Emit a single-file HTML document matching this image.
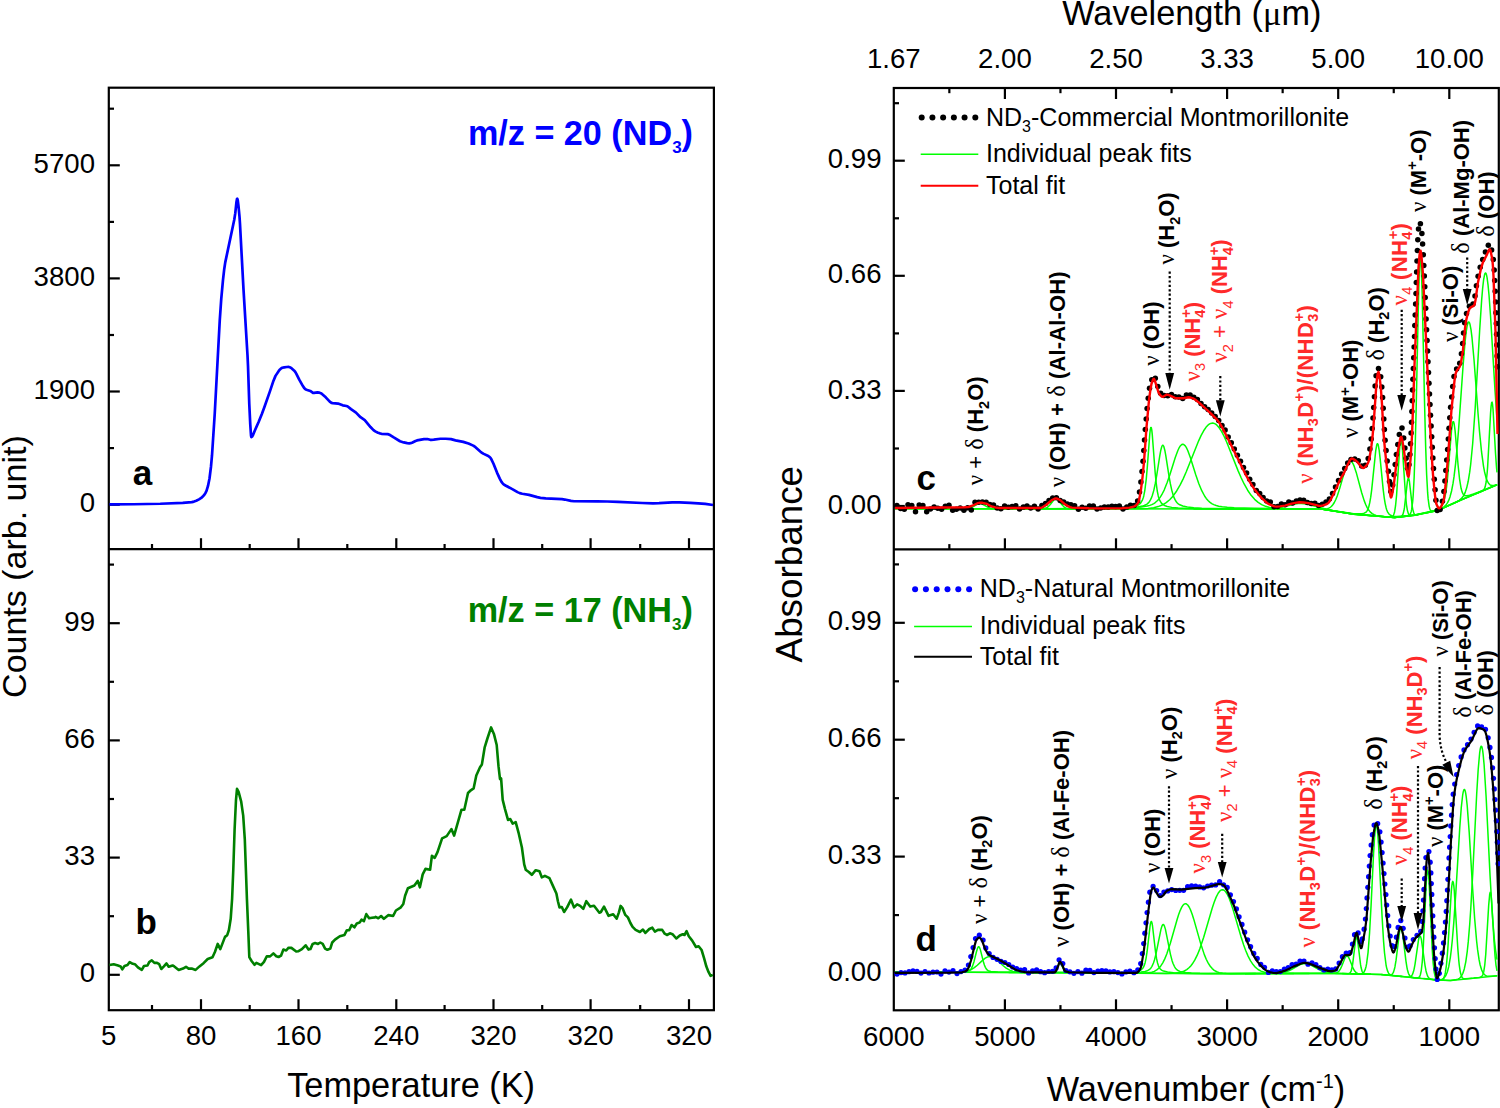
<!DOCTYPE html>
<html><head><meta charset="utf-8"><style>html,body{margin:0;padding:0;background:#fff;overflow:hidden}svg{display:block}</style></head>
<body><svg width="1500" height="1108" viewBox="0 0 1500 1108" font-family="'Liberation Sans', sans-serif">
<rect width="1500" height="1108" fill="#fff"/>
<rect x="108.8" y="87.7" width="605.1" height="922.5" fill="none" stroke="#000" stroke-width="2.2"/>
<line x1="108.80" y1="549.20" x2="713.90" y2="549.20" stroke="#000" stroke-width="2.2" />
<rect x="893.8" y="88.0" width="605.0" height="922.3" fill="none" stroke="#000" stroke-width="2.2"/>
<line x1="893.80" y1="549.30" x2="1498.80" y2="549.30" stroke="#000" stroke-width="2.2" />
<line x1="108.80" y1="165.30" x2="119.80" y2="165.30" stroke="#000" stroke-width="2.2" />
<text x="95.00" y="172.90" font-size="27.6" text-anchor="end" font-weight="normal" fill="#000" >5700</text>
<line x1="108.80" y1="278.40" x2="119.80" y2="278.40" stroke="#000" stroke-width="2.2" />
<text x="95.00" y="286.00" font-size="27.6" text-anchor="end" font-weight="normal" fill="#000" >3800</text>
<line x1="108.80" y1="391.50" x2="119.80" y2="391.50" stroke="#000" stroke-width="2.2" />
<text x="95.00" y="399.10" font-size="27.6" text-anchor="end" font-weight="normal" fill="#000" >1900</text>
<line x1="108.80" y1="504.70" x2="119.80" y2="504.70" stroke="#000" stroke-width="2.2" />
<text x="95.00" y="512.30" font-size="27.6" text-anchor="end" font-weight="normal" fill="#000" >0</text>
<line x1="108.80" y1="623.20" x2="119.80" y2="623.20" stroke="#000" stroke-width="2.2" />
<text x="95.00" y="630.80" font-size="27.6" text-anchor="end" font-weight="normal" fill="#000" >99</text>
<line x1="108.80" y1="740.40" x2="119.80" y2="740.40" stroke="#000" stroke-width="2.2" />
<text x="95.00" y="748.00" font-size="27.6" text-anchor="end" font-weight="normal" fill="#000" >66</text>
<line x1="108.80" y1="857.60" x2="119.80" y2="857.60" stroke="#000" stroke-width="2.2" />
<text x="95.00" y="865.20" font-size="27.6" text-anchor="end" font-weight="normal" fill="#000" >33</text>
<line x1="108.80" y1="974.80" x2="119.80" y2="974.80" stroke="#000" stroke-width="2.2" />
<text x="95.00" y="982.40" font-size="27.6" text-anchor="end" font-weight="normal" fill="#000" >0</text>
<line x1="108.80" y1="108.70" x2="114.00" y2="108.70" stroke="#000" stroke-width="2.2" />
<line x1="108.80" y1="221.90" x2="114.00" y2="221.90" stroke="#000" stroke-width="2.2" />
<line x1="108.80" y1="335.00" x2="114.00" y2="335.00" stroke="#000" stroke-width="2.2" />
<line x1="108.80" y1="448.10" x2="114.00" y2="448.10" stroke="#000" stroke-width="2.2" />
<line x1="108.80" y1="564.60" x2="114.00" y2="564.60" stroke="#000" stroke-width="2.2" />
<line x1="108.80" y1="681.80" x2="114.00" y2="681.80" stroke="#000" stroke-width="2.2" />
<line x1="108.80" y1="799.00" x2="114.00" y2="799.00" stroke="#000" stroke-width="2.2" />
<line x1="108.80" y1="916.20" x2="114.00" y2="916.20" stroke="#000" stroke-width="2.2" />
<line x1="201.00" y1="549.20" x2="201.00" y2="538.20" stroke="#000" stroke-width="2.2" />
<line x1="298.50" y1="549.20" x2="298.50" y2="538.20" stroke="#000" stroke-width="2.2" />
<line x1="396.30" y1="549.20" x2="396.30" y2="538.20" stroke="#000" stroke-width="2.2" />
<line x1="493.50" y1="549.20" x2="493.50" y2="538.20" stroke="#000" stroke-width="2.2" />
<line x1="590.60" y1="549.20" x2="590.60" y2="538.20" stroke="#000" stroke-width="2.2" />
<line x1="689.00" y1="549.20" x2="689.00" y2="538.20" stroke="#000" stroke-width="2.2" />
<line x1="152.00" y1="549.20" x2="152.00" y2="544.00" stroke="#000" stroke-width="2.2" />
<line x1="249.70" y1="549.20" x2="249.70" y2="544.00" stroke="#000" stroke-width="2.2" />
<line x1="347.30" y1="549.20" x2="347.30" y2="544.00" stroke="#000" stroke-width="2.2" />
<line x1="444.60" y1="549.20" x2="444.60" y2="544.00" stroke="#000" stroke-width="2.2" />
<line x1="542.20" y1="549.20" x2="542.20" y2="544.00" stroke="#000" stroke-width="2.2" />
<line x1="640.20" y1="549.20" x2="640.20" y2="544.00" stroke="#000" stroke-width="2.2" />
<line x1="201.00" y1="1010.20" x2="201.00" y2="999.20" stroke="#000" stroke-width="2.2" />
<line x1="298.50" y1="1010.20" x2="298.50" y2="999.20" stroke="#000" stroke-width="2.2" />
<line x1="396.30" y1="1010.20" x2="396.30" y2="999.20" stroke="#000" stroke-width="2.2" />
<line x1="493.50" y1="1010.20" x2="493.50" y2="999.20" stroke="#000" stroke-width="2.2" />
<line x1="590.60" y1="1010.20" x2="590.60" y2="999.20" stroke="#000" stroke-width="2.2" />
<line x1="689.00" y1="1010.20" x2="689.00" y2="999.20" stroke="#000" stroke-width="2.2" />
<line x1="152.00" y1="1010.20" x2="152.00" y2="1005.00" stroke="#000" stroke-width="2.2" />
<line x1="249.70" y1="1010.20" x2="249.70" y2="1005.00" stroke="#000" stroke-width="2.2" />
<line x1="347.30" y1="1010.20" x2="347.30" y2="1005.00" stroke="#000" stroke-width="2.2" />
<line x1="444.60" y1="1010.20" x2="444.60" y2="1005.00" stroke="#000" stroke-width="2.2" />
<line x1="542.20" y1="1010.20" x2="542.20" y2="1005.00" stroke="#000" stroke-width="2.2" />
<line x1="640.20" y1="1010.20" x2="640.20" y2="1005.00" stroke="#000" stroke-width="2.2" />
<text x="108.80" y="1045.30" font-size="27.6" text-anchor="middle" font-weight="normal" fill="#000" >5</text>
<text x="201.00" y="1045.30" font-size="27.6" text-anchor="middle" font-weight="normal" fill="#000" >80</text>
<text x="298.50" y="1045.30" font-size="27.6" text-anchor="middle" font-weight="normal" fill="#000" >160</text>
<text x="396.30" y="1045.30" font-size="27.6" text-anchor="middle" font-weight="normal" fill="#000" >240</text>
<text x="493.50" y="1045.30" font-size="27.6" text-anchor="middle" font-weight="normal" fill="#000" >320</text>
<text x="590.60" y="1045.30" font-size="27.6" text-anchor="middle" font-weight="normal" fill="#000" >320</text>
<text x="689.00" y="1045.30" font-size="27.6" text-anchor="middle" font-weight="normal" fill="#000" >320</text>
<line x1="893.80" y1="160.70" x2="904.80" y2="160.70" stroke="#000" stroke-width="2.2" />
<text x="881.50" y="168.30" font-size="27.6" text-anchor="end" font-weight="normal" fill="#000" >0.99</text>
<line x1="893.80" y1="275.80" x2="904.80" y2="275.80" stroke="#000" stroke-width="2.2" />
<text x="881.50" y="283.40" font-size="27.6" text-anchor="end" font-weight="normal" fill="#000" >0.66</text>
<line x1="893.80" y1="390.90" x2="904.80" y2="390.90" stroke="#000" stroke-width="2.2" />
<text x="881.50" y="398.50" font-size="27.6" text-anchor="end" font-weight="normal" fill="#000" >0.33</text>
<line x1="893.80" y1="506.00" x2="904.80" y2="506.00" stroke="#000" stroke-width="2.2" />
<text x="881.50" y="513.60" font-size="27.6" text-anchor="end" font-weight="normal" fill="#000" >0.00</text>
<line x1="893.80" y1="622.80" x2="904.80" y2="622.80" stroke="#000" stroke-width="2.2" />
<text x="881.50" y="630.40" font-size="27.6" text-anchor="end" font-weight="normal" fill="#000" >0.99</text>
<line x1="893.80" y1="739.70" x2="904.80" y2="739.70" stroke="#000" stroke-width="2.2" />
<text x="881.50" y="747.30" font-size="27.6" text-anchor="end" font-weight="normal" fill="#000" >0.66</text>
<line x1="893.80" y1="856.60" x2="904.80" y2="856.60" stroke="#000" stroke-width="2.2" />
<text x="881.50" y="864.20" font-size="27.6" text-anchor="end" font-weight="normal" fill="#000" >0.33</text>
<line x1="893.80" y1="973.50" x2="904.80" y2="973.50" stroke="#000" stroke-width="2.2" />
<text x="881.50" y="981.10" font-size="27.6" text-anchor="end" font-weight="normal" fill="#000" >0.00</text>
<line x1="893.80" y1="103.20" x2="899.00" y2="103.20" stroke="#000" stroke-width="2.2" />
<line x1="893.80" y1="218.30" x2="899.00" y2="218.30" stroke="#000" stroke-width="2.2" />
<line x1="893.80" y1="333.40" x2="899.00" y2="333.40" stroke="#000" stroke-width="2.2" />
<line x1="893.80" y1="448.50" x2="899.00" y2="448.50" stroke="#000" stroke-width="2.2" />
<line x1="893.80" y1="564.40" x2="899.00" y2="564.40" stroke="#000" stroke-width="2.2" />
<line x1="893.80" y1="681.30" x2="899.00" y2="681.30" stroke="#000" stroke-width="2.2" />
<line x1="893.80" y1="798.20" x2="899.00" y2="798.20" stroke="#000" stroke-width="2.2" />
<line x1="893.80" y1="915.10" x2="899.00" y2="915.10" stroke="#000" stroke-width="2.2" />
<line x1="1004.90" y1="549.30" x2="1004.90" y2="538.30" stroke="#000" stroke-width="2.2" />
<line x1="1116.00" y1="549.30" x2="1116.00" y2="538.30" stroke="#000" stroke-width="2.2" />
<line x1="1227.10" y1="549.30" x2="1227.10" y2="538.30" stroke="#000" stroke-width="2.2" />
<line x1="1338.20" y1="549.30" x2="1338.20" y2="538.30" stroke="#000" stroke-width="2.2" />
<line x1="1449.30" y1="549.30" x2="1449.30" y2="538.30" stroke="#000" stroke-width="2.2" />
<line x1="949.35" y1="549.30" x2="949.35" y2="544.10" stroke="#000" stroke-width="2.2" />
<line x1="1060.45" y1="549.30" x2="1060.45" y2="544.10" stroke="#000" stroke-width="2.2" />
<line x1="1171.55" y1="549.30" x2="1171.55" y2="544.10" stroke="#000" stroke-width="2.2" />
<line x1="1282.65" y1="549.30" x2="1282.65" y2="544.10" stroke="#000" stroke-width="2.2" />
<line x1="1393.75" y1="549.30" x2="1393.75" y2="544.10" stroke="#000" stroke-width="2.2" />
<line x1="1004.90" y1="1010.30" x2="1004.90" y2="999.30" stroke="#000" stroke-width="2.2" />
<line x1="1116.00" y1="1010.30" x2="1116.00" y2="999.30" stroke="#000" stroke-width="2.2" />
<line x1="1227.10" y1="1010.30" x2="1227.10" y2="999.30" stroke="#000" stroke-width="2.2" />
<line x1="1338.20" y1="1010.30" x2="1338.20" y2="999.30" stroke="#000" stroke-width="2.2" />
<line x1="1449.30" y1="1010.30" x2="1449.30" y2="999.30" stroke="#000" stroke-width="2.2" />
<line x1="949.35" y1="1010.30" x2="949.35" y2="1005.10" stroke="#000" stroke-width="2.2" />
<line x1="1060.45" y1="1010.30" x2="1060.45" y2="1005.10" stroke="#000" stroke-width="2.2" />
<line x1="1171.55" y1="1010.30" x2="1171.55" y2="1005.10" stroke="#000" stroke-width="2.2" />
<line x1="1282.65" y1="1010.30" x2="1282.65" y2="1005.10" stroke="#000" stroke-width="2.2" />
<line x1="1393.75" y1="1010.30" x2="1393.75" y2="1005.10" stroke="#000" stroke-width="2.2" />
<line x1="1004.90" y1="88.00" x2="1004.90" y2="99.00" stroke="#000" stroke-width="2.2" />
<line x1="1116.00" y1="88.00" x2="1116.00" y2="99.00" stroke="#000" stroke-width="2.2" />
<line x1="1227.10" y1="88.00" x2="1227.10" y2="99.00" stroke="#000" stroke-width="2.2" />
<line x1="1338.20" y1="88.00" x2="1338.20" y2="99.00" stroke="#000" stroke-width="2.2" />
<line x1="1449.30" y1="88.00" x2="1449.30" y2="99.00" stroke="#000" stroke-width="2.2" />
<line x1="949.35" y1="88.00" x2="949.35" y2="93.20" stroke="#000" stroke-width="2.2" />
<line x1="1060.45" y1="88.00" x2="1060.45" y2="93.20" stroke="#000" stroke-width="2.2" />
<line x1="1171.55" y1="88.00" x2="1171.55" y2="93.20" stroke="#000" stroke-width="2.2" />
<line x1="1282.65" y1="88.00" x2="1282.65" y2="93.20" stroke="#000" stroke-width="2.2" />
<line x1="1393.75" y1="88.00" x2="1393.75" y2="93.20" stroke="#000" stroke-width="2.2" />
<text x="893.80" y="1045.80" font-size="27.6" text-anchor="middle" font-weight="normal" fill="#000" >6000</text>
<text x="1004.90" y="1045.80" font-size="27.6" text-anchor="middle" font-weight="normal" fill="#000" >5000</text>
<text x="1116.00" y="1045.80" font-size="27.6" text-anchor="middle" font-weight="normal" fill="#000" >4000</text>
<text x="1227.10" y="1045.80" font-size="27.6" text-anchor="middle" font-weight="normal" fill="#000" >3000</text>
<text x="1338.20" y="1045.80" font-size="27.6" text-anchor="middle" font-weight="normal" fill="#000" >2000</text>
<text x="1449.30" y="1045.80" font-size="27.6" text-anchor="middle" font-weight="normal" fill="#000" >1000</text>
<text x="893.80" y="67.50" font-size="27.6" text-anchor="middle" font-weight="normal" fill="#000" >1.67</text>
<text x="1004.90" y="67.50" font-size="27.6" text-anchor="middle" font-weight="normal" fill="#000" >2.00</text>
<text x="1116.00" y="67.50" font-size="27.6" text-anchor="middle" font-weight="normal" fill="#000" >2.50</text>
<text x="1227.10" y="67.50" font-size="27.6" text-anchor="middle" font-weight="normal" fill="#000" >3.33</text>
<text x="1338.20" y="67.50" font-size="27.6" text-anchor="middle" font-weight="normal" fill="#000" >5.00</text>
<text x="1449.30" y="67.50" font-size="27.6" text-anchor="middle" font-weight="normal" fill="#000" >10.00</text>
<text x="411.10" y="1096.70" font-size="34.3" text-anchor="middle" font-weight="normal" fill="#000" >Temperature (K)</text>
<text x="1196" y="1101.3" font-size="34.3" text-anchor="middle">Wavenumber (cm<tspan font-size="20" dy="-13">-1</tspan><tspan dy="13">)</tspan></text>
<text x="1191.8" y="24.5" font-size="34.3" text-anchor="middle">Wavelength (<tspan font-family="'Liberation Serif', serif">&#956;</tspan>m)</text>
<text transform="translate(25.7,566.6) rotate(-90)" font-size="34" text-anchor="middle">Counts (arb. unit)</text>
<text transform="translate(802.2,564.2) rotate(-90)" font-size="36.8" text-anchor="middle">Absorbance</text>
<text x="132.70" y="484.50" font-size="35" text-anchor="start" font-weight="bold" fill="#000" >a</text>
<text x="135.50" y="933.50" font-size="35" text-anchor="start" font-weight="bold" fill="#000" >b</text>
<text x="916.50" y="490.00" font-size="35" text-anchor="start" font-weight="bold" fill="#000" >c</text>
<text x="915.50" y="951.00" font-size="35" text-anchor="start" font-weight="bold" fill="#000" >d</text>
<text x="693" y="145.3" font-size="34.2" font-weight="bold" fill="#0000ff" text-anchor="end">m/z = 20 (ND<tspan font-size="17" dy="8">3</tspan><tspan dy="-8">)</tspan></text>
<text x="692.8" y="621.5" font-size="34.2" font-weight="bold" fill="#008000" text-anchor="end">m/z = 17 (NH<tspan font-size="17" dy="8">3</tspan><tspan dy="-8">)</tspan></text>
<circle cx="921.70" cy="117.5" r="3" fill="#000"/>
<circle cx="932.42" cy="117.5" r="3" fill="#000"/>
<circle cx="943.14" cy="117.5" r="3" fill="#000"/>
<circle cx="953.86" cy="117.5" r="3" fill="#000"/>
<circle cx="964.58" cy="117.5" r="3" fill="#000"/>
<circle cx="975.30" cy="117.5" r="3" fill="#000"/>
<text x="986" y="126" font-size="25">ND<tspan font-size="16" dy="6">3</tspan><tspan dy="-6">-Commercial Montmorillonite</tspan></text>
<line x1="920.70" y1="154.30" x2="978.30" y2="154.30" stroke="#00ff00" stroke-width="1.6" />
<text x="986.00" y="161.70" font-size="25" text-anchor="start" font-weight="normal" fill="#000" >Individual peak fits</text>
<line x1="920.70" y1="185.70" x2="978.30" y2="185.70" stroke="#ff0000" stroke-width="2.0" />
<text x="986.00" y="194.00" font-size="25" text-anchor="start" font-weight="normal" fill="#000" >Total fit</text>
<circle cx="915.10" cy="589.2" r="3" fill="#0000ff"/>
<circle cx="925.90" cy="589.2" r="3" fill="#0000ff"/>
<circle cx="936.70" cy="589.2" r="3" fill="#0000ff"/>
<circle cx="947.50" cy="589.2" r="3" fill="#0000ff"/>
<circle cx="958.30" cy="589.2" r="3" fill="#0000ff"/>
<circle cx="969.10" cy="589.2" r="3" fill="#0000ff"/>
<text x="979.8" y="597.4" font-size="25">ND<tspan font-size="16" dy="6">3</tspan><tspan dy="-6">-Natural Montmorillonite</tspan></text>
<line x1="914.10" y1="626.50" x2="972.00" y2="626.50" stroke="#00ff00" stroke-width="1.6" />
<text x="979.80" y="634.10" font-size="25" text-anchor="start" font-weight="normal" fill="#000" >Individual peak fits</text>
<line x1="914.10" y1="656.70" x2="972.00" y2="656.70" stroke="#000" stroke-width="2.0" />
<text x="979.80" y="664.70" font-size="25" text-anchor="start" font-weight="normal" fill="#000" >Total fit</text>
<path d="M895.00,508.80 L1279.00,509.00 L1319.00,508.81 L1321.00,508.96 L1353.00,514.07 L1393.00,517.39 L1395.00,517.43 L1415.00,515.24 L1437.00,510.65 L1439.00,509.91 L1463.00,499.12 L1497.50,484.63" fill="none" stroke="#00ff00" stroke-width="1.5"/>
<path d="M950.00,508.83 L963.88,508.81 L968.35,508.48 L970.33,508.02 L971.82,507.44 L977.27,504.24 L978.76,503.66 L979.75,503.51 L980.74,503.56 L982.23,504.01 L988.18,507.45 L989.67,508.03 L991.65,508.50 L996.12,508.82 L1010.00,508.86" fill="none" stroke="#00ff00" stroke-width="1.5" stroke-linejoin="round"/>
<path d="M1029.00,508.87 L1041.88,508.80 L1043.86,508.62 L1045.84,508.10 L1047.33,507.33 L1048.82,506.12 L1050.30,504.45 L1052.78,501.23 L1054.27,499.71 L1055.26,499.13 L1056.25,499.02 L1057.24,499.37 L1058.23,500.14 L1062.19,505.05 L1063.68,506.58 L1064.67,507.34 L1066.16,508.11 L1068.14,508.63 L1070.12,508.82 L1083.00,508.90" fill="none" stroke="#00ff00" stroke-width="1.5" stroke-linejoin="round"/>
<path d="M1003.80,508.82 L1083.27,508.75 L1114.76,508.39 L1123.76,508.00 L1130.26,507.35 L1134.76,506.42 L1136.75,505.71 L1138.25,504.97 L1139.75,503.90 L1140.75,502.89 L1142.25,500.46 L1143.25,497.79 L1143.75,495.96 L1144.75,490.97 L1146.25,479.08 L1147.25,467.78 L1149.75,434.37 L1150.25,429.86 L1150.75,427.41 L1151.25,427.41 L1151.75,429.86 L1152.25,434.37 L1155.25,473.76 L1156.25,483.71 L1157.25,490.98 L1158.25,495.97 L1158.75,497.80 L1159.75,500.47 L1161.25,502.90 L1162.25,503.92 L1163.75,504.98 L1165.25,505.73 L1167.24,506.44 L1171.74,507.38 L1178.24,508.03 L1187.24,508.43 L1201.73,508.69 L1224.23,508.84 L1298.20,508.88" fill="none" stroke="#00ff00" stroke-width="1.5" stroke-linejoin="round"/>
<path d="M914.40,508.79 L1050.85,508.78 L1103.82,508.54 L1118.82,508.26 L1129.31,507.81 L1136.81,507.13 L1142.31,506.11 L1144.31,505.47 L1145.81,504.79 L1147.31,503.82 L1148.31,502.92 L1149.31,501.74 L1150.31,500.19 L1151.30,498.16 L1152.30,495.56 L1153.80,490.36 L1155.30,483.45 L1156.80,474.87 L1159.80,455.55 L1160.80,450.18 L1161.80,446.51 L1162.30,445.53 L1162.80,445.20 L1163.30,445.53 L1163.80,446.51 L1164.80,450.18 L1165.80,455.56 L1168.80,474.88 L1170.30,483.45 L1171.80,490.37 L1173.30,495.57 L1174.30,498.17 L1175.29,500.20 L1176.29,501.75 L1177.29,502.94 L1178.29,503.83 L1179.79,504.81 L1182.79,505.99 L1187.29,506.94 L1193.79,507.67 L1201.78,508.13 L1213.28,508.47 L1234.77,508.73 L1269.26,508.88 L1319.74,508.75 L1353.72,514.15 L1394.21,517.46 L1411.20,515.66" fill="none" stroke="#00ff00" stroke-width="1.5" stroke-linejoin="round"/>
<path d="M895.00,508.76 L1034.88,508.71 L1097.83,508.42 L1117.32,508.12 L1131.80,507.64 L1141.30,506.99 L1147.29,506.08 L1149.79,505.40 L1151.79,504.63 L1153.79,503.58 L1155.28,502.56 L1157.28,500.80 L1158.78,499.14 L1160.28,497.12 L1161.78,494.72 L1164.28,489.79 L1167.27,482.33 L1169.77,475.00 L1175.27,457.54 L1177.77,450.70 L1179.26,447.53 L1180.26,445.95 L1181.76,444.50 L1182.76,444.20 L1183.76,444.46 L1185.26,445.85 L1186.26,447.39 L1187.76,450.52 L1190.25,457.31 L1195.75,474.77 L1198.75,483.49 L1201.75,490.72 L1204.74,496.26 L1206.24,498.43 L1208.24,500.75 L1209.74,502.13 L1211.74,503.56 L1213.74,504.63 L1216.23,505.57 L1218.73,506.21 L1222.23,506.79 L1227.22,507.30 L1234.22,507.71 L1254.20,508.31 L1280.18,508.63 L1320.15,508.64 L1353.62,514.05 L1394.59,517.40 L1414.57,515.25 L1437.55,510.48 L1462.03,499.49 L1497.00,484.80" fill="none" stroke="#00ff00" stroke-width="1.5" stroke-linejoin="round"/>
<path d="M1091.20,508.90 L1134.68,508.87 L1142.68,508.71 L1148.18,508.38 L1153.67,507.68 L1158.17,506.60 L1162.17,505.04 L1166.17,502.68 L1169.67,499.78 L1173.17,495.92 L1176.66,490.99 L1180.16,484.92 L1183.16,478.83 L1186.16,472.02 L1198.66,440.84 L1201.15,435.42 L1203.65,430.78 L1206.15,427.11 L1208.15,424.98 L1209.65,423.89 L1210.65,423.42 L1211.65,423.16 L1212.65,423.11 L1213.65,423.26 L1214.65,423.63 L1215.65,424.20 L1217.15,425.44 L1219.15,427.76 L1221.65,431.64 L1224.15,436.46 L1226.64,442.01 L1238.14,470.85 L1241.14,477.77 L1244.14,483.99 L1247.64,490.23 L1251.13,495.33 L1254.63,499.33 L1258.13,502.37 L1261.63,504.58 L1265.63,506.33 L1269.63,507.44 L1274.62,508.25 L1280.12,508.69 L1287.12,508.87 L1320.11,508.82 L1333.60,510.97" fill="none" stroke="#00ff00" stroke-width="1.5" stroke-linejoin="round"/>
<path d="M1228.00,508.97 L1261.38,508.96 L1272.35,508.62 L1276.83,508.16 L1280.82,507.49 L1291.78,504.67 L1295.27,503.93 L1298.26,503.57 L1301.25,503.52 L1304.24,503.80 L1307.22,504.36 L1320.18,507.52 L1327.16,509.53 L1337.12,511.49 L1353.56,514.16 L1372.00,515.68" fill="none" stroke="#00ff00" stroke-width="1.5" stroke-linejoin="round"/>
<path d="M1299.50,508.90 L1319.90,508.72 L1322.89,508.99 L1325.37,508.99 L1327.36,508.68 L1328.86,508.16 L1330.35,507.28 L1331.34,506.46 L1332.84,504.77 L1334.33,502.47 L1335.82,499.47 L1337.31,495.75 L1339.80,488.11 L1344.78,470.76 L1346.77,465.24 L1347.76,463.22 L1348.76,461.82 L1349.75,461.08 L1350.25,460.98 L1351.25,461.32 L1352.24,462.37 L1353.24,464.10 L1354.23,466.40 L1356.22,472.40 L1361.70,492.72 L1364.18,500.63 L1365.68,504.46 L1367.17,507.59 L1368.66,510.03 L1370.15,511.89 L1372.14,513.63 L1374.13,514.75 L1376.12,515.45 L1379.11,516.07 L1384.09,516.64 L1394.53,517.49 L1401.50,516.73" fill="none" stroke="#00ff00" stroke-width="1.5" stroke-linejoin="round"/>
<path d="M1193.50,508.95 L1279.86,508.97 L1319.79,508.71 L1342.25,512.10 L1353.74,513.64 L1360.72,513.69 L1362.72,513.52 L1364.22,513.19 L1365.72,512.41 L1366.71,511.40 L1367.21,510.65 L1368.21,508.49 L1368.71,506.98 L1369.71,502.90 L1370.71,497.14 L1371.71,489.56 L1375.70,450.89 L1376.70,445.10 L1377.20,443.80 L1377.70,443.71 L1378.20,444.84 L1379.19,450.38 L1380.19,459.15 L1383.19,489.57 L1384.19,497.51 L1385.18,503.62 L1386.18,508.03 L1386.68,509.69 L1387.68,512.12 L1389.18,514.23 L1390.18,515.01 L1391.67,515.73 L1394.17,516.40 L1396.67,516.43 L1403.65,516.04 L1414.64,515.08 L1437.60,510.43 L1462.06,499.47 L1497.00,484.82" fill="none" stroke="#00ff00" stroke-width="1.5" stroke-linejoin="round"/>
<path d="M1384.20,516.67 L1390.13,517.11 L1391.12,517.08 L1392.11,516.82 L1393.09,515.97 L1393.59,515.12 L1394.58,511.95 L1395.56,505.70 L1396.55,495.51 L1399.52,450.20 L1400.01,444.74 L1400.51,441.24 L1401.00,440.00 L1401.49,441.13 L1401.99,444.53 L1402.48,449.88 L1405.45,494.55 L1406.44,504.53 L1407.42,510.56 L1408.41,513.67 L1408.91,514.50 L1409.89,515.33 L1410.88,515.56 L1412.36,515.53 L1414.84,515.27 L1417.80,514.65" fill="none" stroke="#00ff00" stroke-width="1.5" stroke-linejoin="round"/>
<path d="M1394.60,517.48 L1399.53,516.92 L1401.01,516.57 L1401.99,515.89 L1402.98,514.21 L1403.96,510.55 L1404.46,507.67 L1407.41,481.44 L1407.91,478.92 L1408.40,478.00 L1408.89,478.81 L1409.39,481.23 L1412.34,506.82 L1412.84,509.59 L1413.82,513.03 L1414.31,513.95 L1414.81,514.49 L1415.79,514.86 L1417.27,514.74 L1422.20,513.73" fill="none" stroke="#00ff00" stroke-width="1.5" stroke-linejoin="round"/>
<path d="M1401.20,516.76 L1406.19,516.21 L1408.18,515.83 L1409.18,515.35 L1410.18,514.23 L1411.17,511.67 L1411.67,509.42 L1412.67,501.67 L1413.17,495.53 L1414.17,476.95 L1415.16,448.06 L1416.16,408.49 L1418.16,314.30 L1419.15,276.98 L1419.65,265.06 L1420.15,258.83 L1420.65,258.72 L1421.15,264.75 L1422.15,293.04 L1424.64,406.72 L1425.64,445.88 L1426.63,474.41 L1427.63,492.67 L1428.13,498.65 L1429.13,506.08 L1429.63,508.17 L1430.12,509.55 L1430.62,510.42 L1431.62,511.22 L1433.12,511.36 L1437.61,510.52 L1439.60,509.64" fill="none" stroke="#00ff00" stroke-width="1.5" stroke-linejoin="round"/>
<path d="M1278.40,508.99 L1319.82,508.78 L1353.76,514.16 L1394.19,517.39 L1414.65,515.09 L1429.12,511.74 L1434.12,510.39 L1437.61,509.26 L1439.11,508.30 L1440.60,507.08 L1441.60,505.99 L1442.60,504.47 L1444.10,500.70 L1445.59,493.87 L1446.59,486.87 L1447.59,477.60 L1451.58,429.80 L1452.58,422.95 L1453.08,421.60 L1453.58,421.77 L1454.08,423.44 L1455.08,430.64 L1458.07,464.96 L1459.57,479.11 L1461.07,488.26 L1462.06,491.87 L1463.06,494.03 L1464.06,495.19 L1464.56,495.51 L1465.56,495.82 L1467.05,495.78 L1469.55,495.22 L1473.54,493.94 L1479.03,491.91 L1497.00,484.67" fill="none" stroke="#00ff00" stroke-width="1.5" stroke-linejoin="round"/>
<path d="M1423.60,513.44 L1437.58,510.49 L1441.58,508.49 L1444.07,506.80 L1445.57,505.39 L1446.57,504.16 L1447.57,502.63 L1448.57,500.67 L1450.06,496.68 L1451.56,491.01 L1453.06,483.15 L1454.06,476.45 L1455.56,463.93 L1456.56,453.87 L1458.55,429.86 L1463.05,366.24 L1465.04,342.08 L1466.04,332.95 L1467.04,326.39 L1468.04,322.72 L1468.54,322.03 L1469.04,322.11 L1469.54,322.97 L1470.04,324.57 L1471.04,329.95 L1472.03,337.95 L1474.03,360.03 L1478.03,413.47 L1479.52,431.67 L1481.52,451.72 L1483.52,466.33 L1484.52,471.70 L1486.01,477.66 L1487.01,480.45 L1488.51,483.25 L1490.01,484.80 L1491.01,485.34 L1492.01,485.60 L1494.00,485.53 L1497.00,484.71" fill="none" stroke="#00ff00" stroke-width="1.5" stroke-linejoin="round"/>
<path d="M1440.40,509.28 L1456.29,502.00 L1459.27,500.28 L1461.25,498.67 L1463.24,496.27 L1464.23,494.57 L1465.22,492.37 L1466.71,487.84 L1468.20,481.29 L1469.69,472.13 L1470.69,464.26 L1472.67,443.72 L1475.15,408.78 L1479.62,331.06 L1481.61,300.58 L1482.60,288.75 L1483.59,279.95 L1484.59,274.61 L1485.08,273.32 L1485.58,272.99 L1486.08,273.60 L1486.57,275.14 L1487.07,277.61 L1488.06,285.12 L1489.06,295.74 L1490.55,316.29 L1495.01,390.38 L1497.00,419.31" fill="none" stroke="#00ff00" stroke-width="1.5" stroke-linejoin="round"/>
<path d="M1476.30,493.54 L1481.72,491.22 L1482.71,490.68 L1483.69,489.85 L1484.68,488.22 L1485.17,486.82 L1486.16,481.98 L1487.14,473.04 L1487.64,466.63 L1490.59,412.64 L1491.09,406.41 L1491.58,402.78 L1492.07,402.11 L1492.56,404.45 L1493.06,409.53 L1495.52,453.25 L1496.51,467.37 L1497.00,472.43" fill="none" stroke="#00ff00" stroke-width="1.5" stroke-linejoin="round"/>
<path d="M895.00,972.00 L1099.00,972.80 L1201.00,973.80 L1331.00,973.32 L1381.00,974.50 L1437.00,979.90 L1449.00,980.46 L1451.00,980.40 L1497.50,975.65" fill="none" stroke="#00ff00" stroke-width="1.5"/>
<path d="M895.00,971.99 L953.43,972.03 L963.42,971.75 L965.91,971.53 L967.91,971.15 L969.41,970.50 L970.41,969.69 L971.41,968.39 L972.41,966.44 L973.90,962.03 L976.40,952.00 L977.40,948.59 L977.90,947.44 L978.40,946.81 L978.90,946.75 L979.40,947.27 L980.40,949.81 L983.39,961.69 L984.39,964.92 L985.39,967.35 L986.39,969.04 L987.39,970.13 L988.88,971.03 L990.88,971.54 L997.87,972.06 L1011.36,972.34 L1099.75,972.79 L1139.70,973.19" fill="none" stroke="#00ff00" stroke-width="1.5" stroke-linejoin="round"/>
<path d="M930.00,972.14 L958.38,972.14 L963.36,971.81 L967.34,971.07 L970.83,969.77 L974.32,967.67 L977.30,965.23 L982.78,960.11 L985.27,958.16 L987.76,956.88 L989.75,956.50 L991.74,956.75 L994.23,957.88 L996.72,959.74 L1003.20,965.78 L1006.18,968.15 L1009.67,970.15 L1013.15,971.37 L1017.14,972.08 L1022.12,972.41 L1050.00,972.61" fill="none" stroke="#00ff00" stroke-width="1.5" stroke-linejoin="round"/>
<path d="M1045.00,972.59 L1051.89,972.57 L1053.36,972.35 L1054.34,971.92 L1055.33,971.03 L1056.31,969.55 L1058.77,964.54 L1059.26,963.89 L1059.75,963.54 L1060.25,963.55 L1060.74,963.89 L1061.23,964.55 L1064.18,970.40 L1064.67,971.07 L1065.66,971.96 L1066.64,972.40 L1068.11,972.63 L1075.00,972.70" fill="none" stroke="#00ff00" stroke-width="1.5" stroke-linejoin="round"/>
<path d="M1008.70,972.43 L1119.08,972.63 L1126.58,972.46 L1132.07,972.13 L1136.07,971.61 L1139.06,970.85 L1141.06,969.89 L1142.56,968.55 L1143.56,967.01 L1144.06,965.93 L1145.06,962.90 L1146.06,958.36 L1147.05,951.99 L1150.05,926.20 L1150.55,923.22 L1151.05,921.61 L1151.55,921.61 L1152.05,923.23 L1152.55,926.22 L1155.55,952.08 L1156.54,958.46 L1157.54,963.03 L1158.54,966.08 L1159.04,967.17 L1160.04,968.72 L1161.54,970.10 L1163.54,971.09 L1167.53,972.10 L1173.53,972.79 L1182.52,973.24 L1197.00,973.59 L1293.90,973.42" fill="none" stroke="#00ff00" stroke-width="1.5" stroke-linejoin="round"/>
<path d="M924.00,972.11 L1117.46,972.67 L1135.46,972.36 L1140.95,972.00 L1144.95,971.45 L1146.45,971.07 L1147.95,970.47 L1149.95,969.05 L1150.95,967.90 L1151.95,966.34 L1153.45,963.00 L1154.45,959.99 L1155.95,954.19 L1160.95,929.36 L1161.95,926.08 L1162.45,925.07 L1162.95,924.56 L1163.45,924.57 L1163.95,925.09 L1164.45,926.10 L1165.45,929.40 L1170.45,954.33 L1171.95,960.16 L1172.95,963.20 L1174.45,966.56 L1175.45,968.14 L1176.45,969.31 L1178.45,970.77 L1179.95,971.40 L1181.45,971.81 L1185.45,972.45 L1191.44,972.95 L1199.94,973.34 L1207.94,973.45 L1243.43,973.53 L1330.42,973.29 L1380.90,974.48 L1402.40,976.55" fill="none" stroke="#00ff00" stroke-width="1.5" stroke-linejoin="round"/>
<path d="M1115.30,972.95 L1140.28,973.16 L1144.78,973.08 L1148.28,972.84 L1151.77,972.22 L1154.27,971.36 L1156.77,969.94 L1158.77,968.24 L1160.77,965.92 L1162.77,962.84 L1164.76,958.90 L1166.76,954.06 L1170.26,943.55 L1177.26,919.00 L1178.75,914.34 L1180.25,910.34 L1181.75,907.16 L1182.75,905.58 L1184.25,904.09 L1185.25,903.71 L1186.25,903.85 L1187.75,905.00 L1189.25,907.24 L1190.75,910.44 L1192.25,914.48 L1193.74,919.16 L1200.74,943.84 L1204.24,954.38 L1206.24,959.23 L1208.23,963.18 L1210.23,966.27 L1212.23,968.61 L1214.23,970.31 L1216.73,971.75 L1219.23,972.63 L1222.72,973.27 L1226.22,973.54 L1230.72,973.64 L1255.70,973.59" fill="none" stroke="#00ff00" stroke-width="1.5" stroke-linejoin="round"/>
<path d="M1135.40,973.15 L1166.31,973.42 L1172.29,973.31 L1176.28,973.03 L1180.27,972.37 L1183.76,971.23 L1186.75,969.58 L1189.25,967.54 L1190.74,965.96 L1192.24,964.07 L1194.73,960.15 L1197.22,955.17 L1199.72,949.09 L1203.70,937.20 L1212.18,908.22 L1214.17,902.22 L1216.17,897.14 L1218.16,893.23 L1219.66,891.20 L1221.15,890.01 L1222.65,889.71 L1224.14,890.30 L1225.64,891.76 L1227.14,894.05 L1229.13,898.25 L1230.63,902.16 L1232.62,908.14 L1241.10,937.05 L1243.59,944.75 L1245.58,950.22 L1248.08,956.10 L1250.57,960.88 L1253.06,964.61 L1255.55,967.43 L1258.05,969.48 L1261.04,971.15 L1264.53,972.32 L1268.52,973.00 L1272.51,973.31 L1278.49,973.45 L1309.40,973.38" fill="none" stroke="#00ff00" stroke-width="1.5" stroke-linejoin="round"/>
<path d="M1245.00,973.63 L1272.88,973.46 L1277.86,973.25 L1281.85,972.81 L1285.33,972.04 L1288.82,970.79 L1291.80,969.30 L1298.28,965.53 L1300.77,964.36 L1303.26,963.66 L1305.25,963.50 L1307.24,963.74 L1309.73,964.53 L1312.22,965.74 L1317.70,968.93 L1320.68,970.44 L1323.67,971.59 L1327.16,972.46 L1331.64,973.05 L1336.62,973.39 L1365.00,974.12" fill="none" stroke="#00ff00" stroke-width="1.5" stroke-linejoin="round"/>
<path d="M1323.00,973.33 L1334.38,973.28 L1336.36,972.93 L1337.85,972.19 L1339.33,970.70 L1340.32,969.15 L1341.80,965.96 L1344.77,958.49 L1345.76,956.80 L1346.26,956.28 L1346.75,956.03 L1347.25,956.04 L1347.74,956.32 L1348.73,957.62 L1349.72,959.72 L1353.19,968.49 L1354.67,971.07 L1356.15,972.63 L1357.64,973.44 L1359.62,973.87 L1371.00,974.26" fill="none" stroke="#00ff00" stroke-width="1.5" stroke-linejoin="round"/>
<path d="M1342.20,973.59 L1347.66,973.68 L1349.15,973.45 L1350.14,972.78 L1351.14,971.03 L1352.13,967.30 L1352.63,964.45 L1355.61,940.01 L1356.10,937.77 L1356.60,937.00 L1357.10,937.79 L1357.59,940.05 L1360.57,964.63 L1361.07,967.51 L1362.06,971.28 L1363.06,973.09 L1364.05,973.80 L1365.54,974.10 L1371.00,974.26" fill="none" stroke="#00ff00" stroke-width="1.5" stroke-linejoin="round"/>
<path d="M1351.10,973.80 L1359.58,973.94 L1361.08,973.82 L1362.58,973.35 L1363.58,972.57 L1364.07,971.94 L1365.07,969.93 L1366.07,966.46 L1366.57,963.96 L1368.07,952.33 L1369.56,932.96 L1371.06,905.66 L1373.56,853.66 L1374.55,837.33 L1375.55,827.34 L1376.05,825.26 L1376.55,825.27 L1377.05,827.37 L1377.55,831.48 L1378.55,844.95 L1382.04,915.86 L1383.54,940.87 L1384.53,952.97 L1386.03,964.78 L1386.53,967.34 L1387.53,970.94 L1388.53,973.07 L1389.02,973.76 L1390.02,974.65 L1391.52,975.30 L1393.02,975.61 L1401.50,976.48" fill="none" stroke="#00ff00" stroke-width="1.5" stroke-linejoin="round"/>
<path d="M1381.20,974.52 L1388.13,975.16 L1390.61,975.09 L1391.60,974.68 L1392.09,974.30 L1393.08,972.93 L1393.58,971.84 L1394.57,968.53 L1395.06,966.21 L1396.05,960.13 L1399.52,932.25 L1400.01,929.75 L1400.51,928.20 L1401.00,927.70 L1401.49,928.29 L1401.99,929.94 L1402.48,932.54 L1405.95,961.09 L1406.94,967.36 L1407.43,969.77 L1408.42,973.27 L1408.92,974.46 L1409.91,976.02 L1411.39,977.09 L1413.87,977.65 L1420.80,978.34" fill="none" stroke="#00ff00" stroke-width="1.5" stroke-linejoin="round"/>
<path d="M1400.20,976.35 L1407.13,977.00 L1409.61,976.96 L1411.09,976.30 L1412.08,975.13 L1412.58,974.18 L1413.57,971.33 L1414.06,969.33 L1415.05,964.06 L1418.52,939.93 L1419.01,937.76 L1419.51,936.43 L1420.00,936.00 L1420.49,936.52 L1420.99,937.96 L1421.48,940.21 L1424.95,965.02 L1425.94,970.47 L1426.43,972.57 L1427.42,975.62 L1427.92,976.65 L1428.91,978.02 L1430.39,978.97 L1432.87,979.48 L1439.80,980.07" fill="none" stroke="#00ff00" stroke-width="1.5" stroke-linejoin="round"/>
<path d="M1410.90,977.39 L1416.83,977.90 L1417.82,977.84 L1418.81,977.45 L1419.79,976.22 L1420.29,975.01 L1421.28,970.54 L1422.26,961.92 L1423.25,947.70 L1426.22,884.11 L1426.71,876.49 L1427.21,871.64 L1427.70,870.00 L1428.19,871.73 L1428.69,876.68 L1429.18,884.40 L1432.15,948.55 L1433.14,962.97 L1434.12,971.78 L1435.11,976.44 L1435.61,977.74 L1436.59,979.16 L1437.58,979.74 L1438.57,979.97 L1444.50,980.27" fill="none" stroke="#00ff00" stroke-width="1.5" stroke-linejoin="round"/>
<path d="M1433.00,979.52 L1439.43,980.03 L1441.41,979.89 L1442.40,979.49 L1443.39,978.52 L1443.89,977.66 L1444.88,974.74 L1445.38,972.45 L1446.37,965.59 L1446.86,960.81 L1447.85,948.33 L1451.32,891.07 L1451.81,885.85 L1452.31,882.56 L1452.80,881.40 L1453.29,882.45 L1453.79,885.65 L1454.28,890.76 L1457.75,947.63 L1458.74,960.05 L1459.23,964.80 L1460.22,971.60 L1460.72,973.86 L1461.71,976.72 L1462.20,977.55 L1463.19,978.46 L1464.18,978.80 L1465.67,978.85 L1472.60,978.19" fill="none" stroke="#00ff00" stroke-width="1.5" stroke-linejoin="round"/>
<path d="M1423.50,978.60 L1437.90,979.89 L1440.39,979.71 L1442.37,979.14 L1443.36,978.56 L1444.36,977.69 L1445.85,975.55 L1447.34,971.94 L1448.83,966.20 L1450.32,957.57 L1451.31,949.77 L1452.30,940.26 L1453.79,922.62 L1455.78,893.40 L1459.75,827.85 L1461.24,807.94 L1462.73,794.53 L1463.23,791.84 L1463.73,790.13 L1464.22,789.42 L1464.72,789.72 L1465.22,791.02 L1465.71,793.31 L1466.21,796.54 L1467.20,805.62 L1469.19,832.10 L1472.67,889.21 L1474.65,918.46 L1476.64,941.22 L1477.63,949.93 L1479.12,959.90 L1480.11,964.74 L1481.60,969.83 L1483.09,972.96 L1484.58,974.75 L1485.58,975.45 L1486.57,975.88 L1488.56,976.24 L1491.54,976.20 L1497.00,975.70" fill="none" stroke="#00ff00" stroke-width="1.5" stroke-linejoin="round"/>
<path d="M1440.50,980.10 L1450.41,980.45 L1456.36,979.57 L1457.85,979.10 L1459.33,978.29 L1460.32,977.46 L1461.32,976.27 L1462.80,973.48 L1464.29,968.92 L1465.78,961.82 L1467.26,951.28 L1468.25,941.93 L1469.74,923.96 L1470.73,909.27 L1472.71,873.98 L1476.68,794.23 L1478.17,769.71 L1479.65,752.95 L1480.15,749.51 L1480.64,747.24 L1481.14,746.18 L1481.64,746.35 L1482.13,747.74 L1482.63,750.33 L1483.12,754.07 L1484.11,764.79 L1486.10,796.53 L1490.06,875.60 L1492.04,909.85 L1493.04,923.95 L1494.52,941.04 L1495.51,949.83 L1497.00,959.62" fill="none" stroke="#00ff00" stroke-width="1.5" stroke-linejoin="round"/>
<path d="M1473.50,978.10 L1479.38,977.46 L1480.35,977.25 L1481.33,976.80 L1482.31,975.76 L1482.80,974.82 L1483.78,971.45 L1484.76,965.06 L1485.74,954.51 L1488.68,905.38 L1489.66,894.46 L1490.15,892.34 L1490.64,892.77 L1491.12,895.69 L1491.61,900.85 L1494.06,941.87 L1495.04,955.84 L1496.02,965.36 L1497.00,970.90" fill="none" stroke="#00ff00" stroke-width="1.5" stroke-linejoin="round"/>
<g fill="#000"><circle cx="896.9" cy="505.6" r="2.75"/><circle cx="900.6" cy="508.4" r="2.75"/><circle cx="904.3" cy="509.2" r="2.75"/><circle cx="908.0" cy="504.7" r="2.75"/><circle cx="911.8" cy="505.6" r="2.75"/><circle cx="915.5" cy="511.7" r="2.75"/><circle cx="919.2" cy="504.9" r="2.75"/><circle cx="922.9" cy="505.4" r="2.75"/><circle cx="926.7" cy="511.7" r="2.75"/><circle cx="930.4" cy="509.1" r="2.75"/><circle cx="934.1" cy="507.1" r="2.75"/><circle cx="937.8" cy="508.2" r="2.75"/><circle cx="941.6" cy="509.3" r="2.75"/><circle cx="945.3" cy="506.3" r="2.75"/><circle cx="949.0" cy="505.2" r="2.75"/><circle cx="952.7" cy="510.3" r="2.75"/><circle cx="956.4" cy="509.3" r="2.75"/><circle cx="960.2" cy="508.0" r="2.75"/><circle cx="963.9" cy="510.2" r="2.75"/><circle cx="967.6" cy="507.8" r="2.75"/><circle cx="971.3" cy="509.9" r="2.75"/><circle cx="975.0" cy="502.3" r="2.75"/><circle cx="978.7" cy="502.2" r="2.75"/><circle cx="982.4" cy="502.0" r="2.75"/><circle cx="986.1" cy="502.2" r="2.75"/><circle cx="989.8" cy="504.5" r="2.75"/><circle cx="993.5" cy="505.1" r="2.75"/><circle cx="997.2" cy="508.1" r="2.75"/><circle cx="1000.9" cy="508.8" r="2.75"/><circle cx="1004.6" cy="506.0" r="2.75"/><circle cx="1008.4" cy="507.3" r="2.75"/><circle cx="1012.1" cy="506.6" r="2.75"/><circle cx="1015.8" cy="505.8" r="2.75"/><circle cx="1019.5" cy="508.9" r="2.75"/><circle cx="1023.3" cy="507.1" r="2.75"/><circle cx="1027.0" cy="506.1" r="2.75"/><circle cx="1030.7" cy="508.1" r="2.75"/><circle cx="1034.4" cy="506.3" r="2.75"/><circle cx="1038.1" cy="508.9" r="2.75"/><circle cx="1041.9" cy="505.4" r="2.75"/><circle cx="1045.5" cy="503.4" r="2.75"/><circle cx="1049.0" cy="500.4" r="2.75"/><circle cx="1052.7" cy="497.9" r="2.75"/><circle cx="1056.4" cy="497.7" r="2.75"/><circle cx="1060.1" cy="500.4" r="2.75"/><circle cx="1063.7" cy="501.9" r="2.75"/><circle cx="1067.3" cy="503.9" r="2.75"/><circle cx="1070.9" cy="504.7" r="2.75"/><circle cx="1074.6" cy="505.8" r="2.75"/><circle cx="1078.4" cy="509.2" r="2.75"/><circle cx="1082.1" cy="507.2" r="2.75"/><circle cx="1085.8" cy="508.2" r="2.75"/><circle cx="1089.5" cy="505.9" r="2.75"/><circle cx="1093.3" cy="505.9" r="2.75"/><circle cx="1097.0" cy="509.0" r="2.75"/><circle cx="1100.7" cy="508.0" r="2.75"/><circle cx="1104.4" cy="507.0" r="2.75"/><circle cx="1108.1" cy="507.1" r="2.75"/><circle cx="1111.9" cy="506.2" r="2.75"/><circle cx="1115.6" cy="506.5" r="2.75"/><circle cx="1119.3" cy="506.0" r="2.75"/><circle cx="1123.0" cy="508.9" r="2.75"/><circle cx="1126.8" cy="507.1" r="2.75"/><circle cx="1130.5" cy="505.2" r="2.75"/><circle cx="1134.2" cy="505.6" r="2.75"/><circle cx="1137.6" cy="501.1" r="2.75"/><circle cx="1139.5" cy="491.9" r="2.75"/><circle cx="1140.9" cy="481.9" r="2.75"/><circle cx="1142.0" cy="471.6" r="2.75"/><circle cx="1143.0" cy="461.2" r="2.75"/><circle cx="1143.8" cy="450.6" r="2.75"/><circle cx="1144.5" cy="440.1" r="2.75"/><circle cx="1145.3" cy="429.5" r="2.75"/><circle cx="1146.2" cy="419.0" r="2.75"/><circle cx="1147.1" cy="408.5" r="2.75"/><circle cx="1148.2" cy="398.2" r="2.75"/><circle cx="1149.5" cy="388.2" r="2.75"/><circle cx="1151.8" cy="379.7" r="2.75"/><circle cx="1155.3" cy="378.3" r="2.75"/><circle cx="1157.8" cy="386.6" r="2.75"/><circle cx="1160.6" cy="393.3" r="2.75"/><circle cx="1164.1" cy="395.6" r="2.75"/><circle cx="1167.8" cy="395.8" r="2.75"/><circle cx="1171.5" cy="394.6" r="2.75"/><circle cx="1175.2" cy="396.7" r="2.75"/><circle cx="1178.9" cy="397.0" r="2.75"/><circle cx="1182.7" cy="398.6" r="2.75"/><circle cx="1186.4" cy="395.1" r="2.75"/><circle cx="1190.1" cy="395.1" r="2.75"/><circle cx="1193.8" cy="397.3" r="2.75"/><circle cx="1197.4" cy="399.6" r="2.75"/><circle cx="1201.0" cy="403.5" r="2.75"/><circle cx="1204.6" cy="406.7" r="2.75"/><circle cx="1208.1" cy="409.6" r="2.75"/><circle cx="1211.7" cy="412.9" r="2.75"/><circle cx="1215.2" cy="416.4" r="2.75"/><circle cx="1218.7" cy="420.4" r="2.75"/><circle cx="1222.0" cy="425.4" r="2.75"/><circle cx="1225.1" cy="430.1" r="2.75"/><circle cx="1228.2" cy="436.9" r="2.75"/><circle cx="1231.3" cy="442.8" r="2.75"/><circle cx="1234.3" cy="449.0" r="2.75"/><circle cx="1237.4" cy="455.2" r="2.75"/><circle cx="1240.5" cy="461.3" r="2.75"/><circle cx="1243.5" cy="467.5" r="2.75"/><circle cx="1246.6" cy="473.0" r="2.75"/><circle cx="1249.7" cy="479.3" r="2.75"/><circle cx="1252.9" cy="484.4" r="2.75"/><circle cx="1256.3" cy="490.5" r="2.75"/><circle cx="1259.7" cy="493.6" r="2.75"/><circle cx="1263.1" cy="497.6" r="2.75"/><circle cx="1266.7" cy="501.1" r="2.75"/><circle cx="1270.3" cy="502.1" r="2.75"/><circle cx="1274.0" cy="506.7" r="2.75"/><circle cx="1277.7" cy="506.4" r="2.75"/><circle cx="1281.4" cy="504.1" r="2.75"/><circle cx="1285.1" cy="504.7" r="2.75"/><circle cx="1288.8" cy="501.9" r="2.75"/><circle cx="1292.6" cy="503.0" r="2.75"/><circle cx="1296.3" cy="500.9" r="2.75"/><circle cx="1300.0" cy="499.9" r="2.75"/><circle cx="1303.7" cy="500.3" r="2.75"/><circle cx="1307.4" cy="502.4" r="2.75"/><circle cx="1311.2" cy="503.4" r="2.75"/><circle cx="1314.9" cy="503.2" r="2.75"/><circle cx="1318.6" cy="505.5" r="2.75"/><circle cx="1322.3" cy="504.2" r="2.75"/><circle cx="1326.0" cy="501.9" r="2.75"/><circle cx="1329.4" cy="499.1" r="2.75"/><circle cx="1332.5" cy="493.4" r="2.75"/><circle cx="1335.5" cy="487.0" r="2.75"/><circle cx="1338.5" cy="480.5" r="2.75"/><circle cx="1341.6" cy="474.1" r="2.75"/><circle cx="1344.7" cy="468.5" r="2.75"/><circle cx="1347.7" cy="462.9" r="2.75"/><circle cx="1351.0" cy="459.5" r="2.75"/><circle cx="1354.7" cy="458.9" r="2.75"/><circle cx="1358.3" cy="460.7" r="2.75"/><circle cx="1361.7" cy="466.1" r="2.75"/><circle cx="1365.3" cy="465.3" r="2.75"/><circle cx="1368.2" cy="458.6" r="2.75"/><circle cx="1369.9" cy="449.0" r="2.75"/><circle cx="1371.2" cy="438.9" r="2.75"/><circle cx="1372.2" cy="428.5" r="2.75"/><circle cx="1373.0" cy="417.9" r="2.75"/><circle cx="1373.7" cy="407.4" r="2.75"/><circle cx="1374.4" cy="396.8" r="2.75"/><circle cx="1375.1" cy="386.1" r="2.75"/><circle cx="1376.1" cy="375.8" r="2.75"/><circle cx="1378.5" cy="368.4" r="2.75"/><circle cx="1380.7" cy="376.7" r="2.75"/><circle cx="1381.8" cy="387.1" r="2.75"/><circle cx="1382.6" cy="397.6" r="2.75"/><circle cx="1383.2" cy="408.3" r="2.75"/><circle cx="1383.8" cy="418.9" r="2.75"/><circle cx="1384.4" cy="429.6" r="2.75"/><circle cx="1385.1" cy="440.2" r="2.75"/><circle cx="1386.1" cy="450.6" r="2.75"/><circle cx="1387.2" cy="460.9" r="2.75"/><circle cx="1388.4" cy="471.2" r="2.75"/><circle cx="1389.5" cy="481.5" r="2.75"/><circle cx="1390.8" cy="491.6" r="2.75"/><circle cx="1392.7" cy="484.9" r="2.75"/><circle cx="1394.0" cy="474.8" r="2.75"/><circle cx="1395.2" cy="464.6" r="2.75"/><circle cx="1396.4" cy="454.4" r="2.75"/><circle cx="1397.8" cy="444.4" r="2.75"/><circle cx="1399.3" cy="434.4" r="2.75"/><circle cx="1402.0" cy="428.0" r="2.75"/><circle cx="1403.7" cy="437.9" r="2.75"/><circle cx="1404.9" cy="448.1" r="2.75"/><circle cx="1406.1" cy="458.3" r="2.75"/><circle cx="1407.5" cy="468.3" r="2.75"/><circle cx="1409.0" cy="464.8" r="2.75"/><circle cx="1409.9" cy="454.4" r="2.75"/><circle cx="1410.5" cy="443.7" r="2.75"/><circle cx="1411.1" cy="433.1" r="2.75"/><circle cx="1411.5" cy="422.3" r="2.75"/><circle cx="1411.9" cy="411.6" r="2.75"/><circle cx="1412.2" cy="400.8" r="2.75"/><circle cx="1412.5" cy="390.1" r="2.75"/><circle cx="1412.9" cy="379.3" r="2.75"/><circle cx="1413.3" cy="368.6" r="2.75"/><circle cx="1413.7" cy="357.8" r="2.75"/><circle cx="1414.1" cy="347.1" r="2.75"/><circle cx="1414.5" cy="336.4" r="2.75"/><circle cx="1414.8" cy="325.6" r="2.75"/><circle cx="1415.2" cy="314.9" r="2.75"/><circle cx="1415.6" cy="304.1" r="2.75"/><circle cx="1416.0" cy="293.4" r="2.75"/><circle cx="1416.3" cy="282.6" r="2.75"/><circle cx="1416.6" cy="271.9" r="2.75"/><circle cx="1417.0" cy="261.1" r="2.75"/><circle cx="1417.4" cy="250.4" r="2.75"/><circle cx="1417.8" cy="239.7" r="2.75"/><circle cx="1418.5" cy="229.0" r="2.75"/><circle cx="1420.4" cy="223.7" r="2.75"/><circle cx="1421.9" cy="233.5" r="2.75"/><circle cx="1422.6" cy="244.1" r="2.75"/><circle cx="1423.3" cy="254.7" r="2.75"/><circle cx="1423.8" cy="265.4" r="2.75"/><circle cx="1424.3" cy="276.1" r="2.75"/><circle cx="1424.8" cy="286.8" r="2.75"/><circle cx="1425.2" cy="297.5" r="2.75"/><circle cx="1425.7" cy="308.3" r="2.75"/><circle cx="1426.1" cy="319.0" r="2.75"/><circle cx="1426.6" cy="329.7" r="2.75"/><circle cx="1427.1" cy="340.4" r="2.75"/><circle cx="1427.6" cy="351.1" r="2.75"/><circle cx="1428.0" cy="361.8" r="2.75"/><circle cx="1428.5" cy="372.5" r="2.75"/><circle cx="1429.0" cy="383.2" r="2.75"/><circle cx="1429.5" cy="393.9" r="2.75"/><circle cx="1430.0" cy="404.6" r="2.75"/><circle cx="1430.5" cy="415.3" r="2.75"/><circle cx="1431.1" cy="426.0" r="2.75"/><circle cx="1431.7" cy="436.7" r="2.75"/><circle cx="1432.3" cy="447.3" r="2.75"/><circle cx="1432.9" cy="458.0" r="2.75"/><circle cx="1433.5" cy="468.6" r="2.75"/><circle cx="1434.3" cy="479.2" r="2.75"/><circle cx="1435.1" cy="489.8" r="2.75"/><circle cx="1435.9" cy="500.3" r="2.75"/><circle cx="1437.2" cy="510.4" r="2.75"/><circle cx="1440.1" cy="509.6" r="2.75"/><circle cx="1442.4" cy="501.2" r="2.75"/><circle cx="1443.9" cy="491.4" r="2.75"/><circle cx="1444.9" cy="481.0" r="2.75"/><circle cx="1445.8" cy="470.5" r="2.75"/><circle cx="1446.7" cy="460.0" r="2.75"/><circle cx="1447.6" cy="449.5" r="2.75"/><circle cx="1448.3" cy="438.9" r="2.75"/><circle cx="1449.0" cy="428.3" r="2.75"/><circle cx="1449.8" cy="417.8" r="2.75"/><circle cx="1450.6" cy="407.3" r="2.75"/><circle cx="1451.7" cy="396.9" r="2.75"/><circle cx="1452.7" cy="386.5" r="2.75"/><circle cx="1454.0" cy="376.4" r="2.75"/><circle cx="1456.6" cy="369.0" r="2.75"/><circle cx="1459.7" cy="363.3" r="2.75"/><circle cx="1461.4" cy="353.7" r="2.75"/><circle cx="1462.6" cy="343.6" r="2.75"/><circle cx="1463.5" cy="333.1" r="2.75"/><circle cx="1464.6" cy="322.8" r="2.75"/><circle cx="1466.5" cy="313.6" r="2.75"/><circle cx="1469.4" cy="306.3" r="2.75"/><circle cx="1473.0" cy="304.1" r="2.75"/><circle cx="1475.0" cy="295.9" r="2.75"/><circle cx="1476.4" cy="285.8" r="2.75"/><circle cx="1478.1" cy="276.2" r="2.75"/><circle cx="1480.2" cy="267.3" r="2.75"/><circle cx="1482.7" cy="259.5" r="2.75"/><circle cx="1485.4" cy="252.0" r="2.75"/><circle cx="1488.3" cy="245.2" r="2.75"/><circle cx="1491.6" cy="250.0" r="2.75"/><circle cx="1493.3" cy="259.4" r="2.75"/><circle cx="1494.2" cy="269.9" r="2.75"/><circle cx="1494.7" cy="280.6" r="2.75"/><circle cx="1495.2" cy="291.3" r="2.75"/><circle cx="1495.6" cy="302.1" r="2.75"/><circle cx="1495.9" cy="312.8" r="2.75"/><circle cx="1496.3" cy="323.6" r="2.75"/><circle cx="1496.6" cy="334.3" r="2.75"/><circle cx="1496.8" cy="345.1" r="2.75"/><circle cx="1497.1" cy="355.9" r="2.75"/><circle cx="1497.3" cy="366.7" r="2.75"/></g>
<path d="M895.00,508.00 L964.50,507.30 L968.00,507.00 L969.50,506.70 L974.50,504.80 L978.00,503.06 L980.00,502.60 L982.50,502.82 L986.00,503.60 L987.50,504.21 L991.50,506.44 L995.50,507.46 L998.50,507.93 L1040.00,508.00 L1041.00,507.86 L1042.50,507.25 L1046.00,505.00 L1051.50,500.30 L1054.50,498.72 L1056.00,498.40 L1057.50,498.72 L1060.50,500.30 L1065.00,504.31 L1067.50,505.87 L1070.00,507.13 L1072.00,507.60 L1089.00,508.18 L1121.00,508.39 L1129.50,507.60 L1132.50,506.97 L1134.50,506.27 L1136.00,505.28 L1137.00,504.30 L1138.00,503.00 L1138.50,501.89 L1139.50,497.89 L1141.00,489.39 L1142.50,477.33 L1144.00,461.75 L1146.50,427.42 L1149.00,400.19 L1150.50,389.00 L1151.50,383.77 L1153.00,379.73 L1153.50,379.00 L1154.00,378.82 L1154.50,379.58 L1155.00,381.07 L1158.50,392.43 L1160.00,394.81 L1161.50,396.43 L1162.00,396.70 L1163.00,396.72 L1166.00,394.93 L1167.00,394.70 L1169.00,395.19 L1175.00,397.85 L1176.50,398.27 L1183.50,398.26 L1188.50,397.30 L1190.50,397.56 L1193.00,398.34 L1195.00,399.49 L1199.00,402.68 L1210.50,413.14 L1216.00,418.61 L1219.00,422.24 L1222.00,427.17 L1228.50,439.79 L1246.00,475.23 L1250.50,483.19 L1254.50,489.31 L1259.00,495.14 L1262.00,498.41 L1267.00,502.94 L1269.00,504.21 L1272.50,505.72 L1274.50,506.34 L1276.50,506.60 L1280.00,506.38 L1285.00,505.60 L1291.50,503.61 L1296.50,502.61 L1299.50,502.31 L1303.50,502.47 L1308.50,503.08 L1319.00,505.83 L1321.00,505.84 L1323.00,505.42 L1325.50,504.63 L1327.50,503.63 L1328.50,502.84 L1330.00,500.69 L1333.50,494.08 L1340.00,480.00 L1344.50,471.80 L1347.50,464.95 L1350.00,460.24 L1351.00,458.90 L1351.50,458.56 L1352.50,458.61 L1355.50,460.34 L1358.00,462.71 L1360.50,466.00 L1362.00,467.37 L1363.00,467.96 L1364.00,467.81 L1366.00,466.00 L1367.50,463.90 L1368.50,461.73 L1369.00,460.21 L1370.00,455.08 L1371.50,445.22 L1372.50,436.99 L1373.50,425.69 L1376.50,382.74 L1377.50,375.04 L1378.00,372.53 L1378.50,371.85 L1379.00,373.40 L1380.00,380.00 L1381.00,390.07 L1382.00,404.40 L1383.50,432.67 L1385.00,450.06 L1389.00,486.36 L1390.50,496.25 L1391.00,497.50 L1391.50,496.79 L1392.00,494.98 L1393.50,487.06 L1398.00,450.73 L1400.00,439.78 L1400.50,437.91 L1401.00,436.90 L1401.50,437.07 L1402.50,441.08 L1404.00,450.62 L1406.00,466.00 L1407.50,474.73 L1408.00,476.50 L1408.50,476.92 L1409.00,474.56 L1410.50,459.60 L1412.00,435.96 L1414.50,364.93 L1418.50,267.67 L1419.50,255.44 L1420.00,251.71 L1420.50,250.66 L1421.00,252.56 L1421.50,256.50 L1423.00,274.51 L1429.50,415.08 L1432.00,459.88 L1433.00,474.61 L1434.50,490.98 L1435.50,499.65 L1436.00,502.63 L1436.50,504.35 L1437.50,506.56 L1438.50,507.98 L1439.00,508.27 L1439.50,508.25 L1440.00,507.98 L1441.00,506.79 L1442.00,504.87 L1443.50,500.99 L1444.00,498.69 L1445.50,485.98 L1448.00,457.42 L1451.50,409.28 L1454.50,380.56 L1455.50,374.36 L1456.00,372.50 L1457.00,370.38 L1459.50,367.04 L1460.50,364.58 L1461.00,362.52 L1463.00,350.10 L1465.00,328.52 L1466.00,320.98 L1468.00,312.53 L1469.50,308.71 L1470.50,307.52 L1473.50,305.88 L1474.50,304.62 L1475.50,300.04 L1478.00,282.17 L1481.00,268.48 L1483.00,262.18 L1487.00,254.37 L1489.00,249.66 L1489.50,249.21 L1490.00,249.49 L1490.50,250.60 L1492.00,257.79 L1492.50,261.15 L1493.00,267.08 L1493.50,276.15 L1495.50,332.11 L1497.50,434.00" fill="none" stroke="#ff0000" stroke-width="2.4" stroke-linejoin="round"/>
<g fill="#0000ff"><circle cx="897.0" cy="974.1" r="2.6"/><circle cx="901.0" cy="972.6" r="2.6"/><circle cx="905.0" cy="972.9" r="2.6"/><circle cx="909.0" cy="971.7" r="2.6"/><circle cx="913.0" cy="970.9" r="2.6"/><circle cx="917.0" cy="971.4" r="2.6"/><circle cx="921.0" cy="973.1" r="2.6"/><circle cx="925.0" cy="971.5" r="2.6"/><circle cx="929.0" cy="973.0" r="2.6"/><circle cx="933.0" cy="972.2" r="2.6"/><circle cx="937.0" cy="972.0" r="2.6"/><circle cx="941.0" cy="974.1" r="2.6"/><circle cx="945.0" cy="970.8" r="2.6"/><circle cx="949.0" cy="972.1" r="2.6"/><circle cx="953.0" cy="970.7" r="2.6"/><circle cx="957.0" cy="973.6" r="2.6"/><circle cx="961.0" cy="971.6" r="2.6"/><circle cx="965.0" cy="970.1" r="2.6"/><circle cx="968.4" cy="965.1" r="2.6"/><circle cx="970.8" cy="956.6" r="2.6"/><circle cx="973.1" cy="947.6" r="2.6"/><circle cx="975.5" cy="938.6" r="2.6"/><circle cx="979.3" cy="935.2" r="2.6"/><circle cx="983.1" cy="940.0" r="2.6"/><circle cx="985.8" cy="947.9" r="2.6"/><circle cx="989.2" cy="953.6" r="2.6"/><circle cx="993.1" cy="957.4" r="2.6"/><circle cx="997.1" cy="959.3" r="2.6"/><circle cx="1001.0" cy="961.4" r="2.6"/><circle cx="1004.9" cy="962.5" r="2.6"/><circle cx="1008.8" cy="964.5" r="2.6"/><circle cx="1012.7" cy="967.0" r="2.6"/><circle cx="1016.6" cy="968.7" r="2.6"/><circle cx="1020.6" cy="970.0" r="2.6"/><circle cx="1024.6" cy="969.5" r="2.6"/><circle cx="1028.6" cy="972.9" r="2.6"/><circle cx="1032.6" cy="970.8" r="2.6"/><circle cx="1036.6" cy="969.9" r="2.6"/><circle cx="1040.6" cy="971.7" r="2.6"/><circle cx="1044.6" cy="972.7" r="2.6"/><circle cx="1048.6" cy="971.5" r="2.6"/><circle cx="1052.6" cy="971.3" r="2.6"/><circle cx="1056.1" cy="967.9" r="2.6"/><circle cx="1059.1" cy="959.8" r="2.6"/><circle cx="1062.8" cy="963.6" r="2.6"/><circle cx="1065.9" cy="970.5" r="2.6"/><circle cx="1069.9" cy="971.8" r="2.6"/><circle cx="1073.9" cy="973.3" r="2.6"/><circle cx="1077.9" cy="971.6" r="2.6"/><circle cx="1081.9" cy="973.2" r="2.6"/><circle cx="1085.9" cy="970.2" r="2.6"/><circle cx="1089.9" cy="970.3" r="2.6"/><circle cx="1093.9" cy="972.6" r="2.6"/><circle cx="1097.9" cy="971.2" r="2.6"/><circle cx="1101.9" cy="970.6" r="2.6"/><circle cx="1105.9" cy="970.8" r="2.6"/><circle cx="1109.9" cy="971.9" r="2.6"/><circle cx="1113.9" cy="971.7" r="2.6"/><circle cx="1117.9" cy="972.6" r="2.6"/><circle cx="1121.9" cy="973.9" r="2.6"/><circle cx="1125.9" cy="971.9" r="2.6"/><circle cx="1129.9" cy="971.1" r="2.6"/><circle cx="1133.9" cy="972.7" r="2.6"/><circle cx="1137.8" cy="969.8" r="2.6"/><circle cx="1140.7" cy="963.5" r="2.6"/><circle cx="1142.3" cy="953.6" r="2.6"/><circle cx="1143.7" cy="943.5" r="2.6"/><circle cx="1144.8" cy="933.2" r="2.6"/><circle cx="1146.0" cy="922.8" r="2.6"/><circle cx="1147.1" cy="912.5" r="2.6"/><circle cx="1148.4" cy="902.2" r="2.6"/><circle cx="1149.8" cy="892.2" r="2.6"/><circle cx="1153.1" cy="886.4" r="2.6"/><circle cx="1156.7" cy="890.6" r="2.6"/><circle cx="1160.1" cy="895.6" r="2.6"/><circle cx="1163.9" cy="892.1" r="2.6"/><circle cx="1167.7" cy="890.9" r="2.6"/><circle cx="1171.7" cy="889.6" r="2.6"/><circle cx="1175.7" cy="890.5" r="2.6"/><circle cx="1179.7" cy="890.3" r="2.6"/><circle cx="1183.6" cy="890.3" r="2.6"/><circle cx="1187.6" cy="886.7" r="2.6"/><circle cx="1191.6" cy="885.8" r="2.6"/><circle cx="1195.6" cy="886.2" r="2.6"/><circle cx="1199.6" cy="886.9" r="2.6"/><circle cx="1203.6" cy="887.8" r="2.6"/><circle cx="1207.6" cy="886.0" r="2.6"/><circle cx="1211.6" cy="885.2" r="2.6"/><circle cx="1215.6" cy="884.9" r="2.6"/><circle cx="1219.6" cy="881.7" r="2.6"/><circle cx="1223.6" cy="884.8" r="2.6"/><circle cx="1227.2" cy="887.4" r="2.6"/><circle cx="1230.4" cy="894.8" r="2.6"/><circle cx="1233.5" cy="901.6" r="2.6"/><circle cx="1236.4" cy="908.9" r="2.6"/><circle cx="1239.1" cy="916.8" r="2.6"/><circle cx="1242.0" cy="924.4" r="2.6"/><circle cx="1244.7" cy="932.2" r="2.6"/><circle cx="1247.6" cy="939.8" r="2.6"/><circle cx="1250.6" cy="946.7" r="2.6"/><circle cx="1253.8" cy="953.4" r="2.6"/><circle cx="1257.2" cy="958.4" r="2.6"/><circle cx="1260.8" cy="964.4" r="2.6"/><circle cx="1264.5" cy="967.3" r="2.6"/><circle cx="1268.4" cy="972.4" r="2.6"/><circle cx="1272.3" cy="970.8" r="2.6"/><circle cx="1276.3" cy="971.6" r="2.6"/><circle cx="1280.3" cy="971.6" r="2.6"/><circle cx="1284.3" cy="969.2" r="2.6"/><circle cx="1288.2" cy="967.7" r="2.6"/><circle cx="1292.1" cy="964.6" r="2.6"/><circle cx="1296.1" cy="964.1" r="2.6"/><circle cx="1300.0" cy="961.0" r="2.6"/><circle cx="1304.0" cy="961.1" r="2.6"/><circle cx="1308.0" cy="964.2" r="2.6"/><circle cx="1312.0" cy="962.8" r="2.6"/><circle cx="1315.9" cy="964.5" r="2.6"/><circle cx="1319.9" cy="967.7" r="2.6"/><circle cx="1323.9" cy="969.9" r="2.6"/><circle cx="1327.8" cy="969.1" r="2.6"/><circle cx="1331.8" cy="969.9" r="2.6"/><circle cx="1335.7" cy="968.9" r="2.6"/><circle cx="1339.1" cy="963.1" r="2.6"/><circle cx="1342.4" cy="956.7" r="2.6"/><circle cx="1346.2" cy="953.2" r="2.6"/><circle cx="1350.0" cy="952.5" r="2.6"/><circle cx="1352.4" cy="944.0" r="2.6"/><circle cx="1354.5" cy="934.7" r="2.6"/><circle cx="1358.1" cy="932.9" r="2.6"/><circle cx="1360.2" cy="942.0" r="2.6"/><circle cx="1362.3" cy="938.9" r="2.6"/><circle cx="1364.1" cy="929.2" r="2.6"/><circle cx="1365.4" cy="919.0" r="2.6"/><circle cx="1366.3" cy="908.5" r="2.6"/><circle cx="1367.0" cy="897.9" r="2.6"/><circle cx="1367.8" cy="887.3" r="2.6"/><circle cx="1368.6" cy="876.7" r="2.6"/><circle cx="1369.3" cy="866.1" r="2.6"/><circle cx="1370.1" cy="855.5" r="2.6"/><circle cx="1371.1" cy="845.0" r="2.6"/><circle cx="1372.3" cy="834.7" r="2.6"/><circle cx="1374.1" cy="825.1" r="2.6"/><circle cx="1377.7" cy="823.5" r="2.6"/><circle cx="1379.9" cy="831.8" r="2.6"/><circle cx="1381.1" cy="842.1" r="2.6"/><circle cx="1382.1" cy="852.5" r="2.6"/><circle cx="1383.1" cy="863.0" r="2.6"/><circle cx="1384.0" cy="873.5" r="2.6"/><circle cx="1384.9" cy="884.0" r="2.6"/><circle cx="1385.9" cy="894.5" r="2.6"/><circle cx="1386.7" cy="905.0" r="2.6"/><circle cx="1387.7" cy="915.6" r="2.6"/><circle cx="1388.8" cy="925.9" r="2.6"/><circle cx="1390.2" cy="936.0" r="2.6"/><circle cx="1392.0" cy="945.6" r="2.6"/><circle cx="1394.6" cy="946.7" r="2.6"/><circle cx="1396.4" cy="937.2" r="2.6"/><circle cx="1398.1" cy="927.4" r="2.6"/><circle cx="1400.8" cy="920.6" r="2.6"/><circle cx="1403.2" cy="928.3" r="2.6"/><circle cx="1405.0" cy="938.0" r="2.6"/><circle cx="1407.1" cy="947.0" r="2.6"/><circle cx="1410.1" cy="945.8" r="2.6"/><circle cx="1413.3" cy="939.5" r="2.6"/><circle cx="1417.0" cy="935.3" r="2.6"/><circle cx="1420.7" cy="931.3" r="2.6"/><circle cx="1422.2" cy="921.4" r="2.6"/><circle cx="1422.9" cy="910.8" r="2.6"/><circle cx="1423.4" cy="900.1" r="2.6"/><circle cx="1423.9" cy="889.4" r="2.6"/><circle cx="1424.5" cy="878.7" r="2.6"/><circle cx="1425.1" cy="868.0" r="2.6"/><circle cx="1425.9" cy="857.5" r="2.6"/><circle cx="1428.9" cy="851.6" r="2.6"/><circle cx="1430.2" cy="862.2" r="2.6"/><circle cx="1430.9" cy="872.9" r="2.6"/><circle cx="1431.3" cy="883.6" r="2.6"/><circle cx="1431.8" cy="894.4" r="2.6"/><circle cx="1432.2" cy="905.1" r="2.6"/><circle cx="1432.8" cy="915.8" r="2.6"/><circle cx="1433.3" cy="926.5" r="2.6"/><circle cx="1433.9" cy="937.2" r="2.6"/><circle cx="1434.5" cy="947.8" r="2.6"/><circle cx="1435.2" cy="958.5" r="2.6"/><circle cx="1436.0" cy="969.0" r="2.6"/><circle cx="1437.2" cy="979.4" r="2.6"/><circle cx="1439.3" cy="973.3" r="2.6"/><circle cx="1440.9" cy="963.3" r="2.6"/><circle cx="1442.3" cy="953.2" r="2.6"/><circle cx="1443.5" cy="942.9" r="2.6"/><circle cx="1444.5" cy="932.5" r="2.6"/><circle cx="1445.4" cy="922.0" r="2.6"/><circle cx="1446.2" cy="911.4" r="2.6"/><circle cx="1446.8" cy="900.7" r="2.6"/><circle cx="1447.4" cy="890.0" r="2.6"/><circle cx="1447.9" cy="879.3" r="2.6"/><circle cx="1448.5" cy="868.6" r="2.6"/><circle cx="1449.0" cy="857.9" r="2.6"/><circle cx="1449.6" cy="847.2" r="2.6"/><circle cx="1450.2" cy="836.5" r="2.6"/><circle cx="1450.8" cy="825.9" r="2.6"/><circle cx="1451.5" cy="815.2" r="2.6"/><circle cx="1452.2" cy="804.6" r="2.6"/><circle cx="1453.2" cy="794.2" r="2.6"/><circle cx="1454.7" cy="784.1" r="2.6"/><circle cx="1456.6" cy="774.6" r="2.6"/><circle cx="1458.7" cy="765.6" r="2.6"/><circle cx="1461.1" cy="756.9" r="2.6"/><circle cx="1464.0" cy="749.9" r="2.6"/><circle cx="1467.5" cy="744.7" r="2.6"/><circle cx="1471.0" cy="739.0" r="2.6"/><circle cx="1474.1" cy="732.3" r="2.6"/><circle cx="1477.6" cy="725.9" r="2.6"/><circle cx="1481.6" cy="726.9" r="2.6"/><circle cx="1485.5" cy="729.3" r="2.6"/><circle cx="1488.2" cy="737.8" r="2.6"/><circle cx="1490.0" cy="747.4" r="2.6"/><circle cx="1491.5" cy="757.4" r="2.6"/><circle cx="1492.6" cy="767.8" r="2.6"/><circle cx="1493.5" cy="778.3" r="2.6"/><circle cx="1494.3" cy="788.9" r="2.6"/><circle cx="1495.0" cy="799.5" r="2.6"/><circle cx="1495.6" cy="810.1" r="2.6"/><circle cx="1496.3" cy="820.8" r="2.6"/><circle cx="1496.8" cy="831.5" r="2.6"/><circle cx="1497.3" cy="842.2" r="2.6"/><circle cx="1497.7" cy="853.0" r="2.6"/><circle cx="1498.1" cy="863.7" r="2.6"/></g>
<path d="M895.00,972.80 L949.50,972.72 L962.00,972.28 L965.00,971.50 L966.50,970.60 L967.50,969.62 L968.00,968.92 L969.00,966.67 L971.00,960.53 L975.00,944.10 L976.00,940.66 L976.50,939.77 L978.00,938.15 L979.00,937.63 L979.50,937.62 L980.50,938.34 L982.00,940.39 L985.00,948.88 L987.00,952.54 L988.50,954.43 L990.00,955.40 L1000.50,960.56 L1014.50,969.17 L1017.00,970.27 L1021.50,971.50 L1025.00,972.10 L1030.00,972.37 L1055.00,972.35 L1056.00,971.00 L1058.00,966.34 L1059.00,963.29 L1059.50,962.15 L1060.00,961.70 L1060.50,961.96 L1061.50,963.56 L1063.00,966.77 L1064.50,970.60 L1065.00,971.00 L1066.50,971.64 L1069.00,972.26 L1096.00,972.85 L1136.50,972.97 L1138.00,972.06 L1139.50,970.12 L1140.50,968.40 L1141.50,964.86 L1144.00,949.57 L1148.50,909.85 L1150.50,894.52 L1151.00,891.81 L1151.50,890.32 L1152.50,888.32 L1153.00,887.75 L1153.50,887.61 L1154.00,887.98 L1156.00,891.95 L1158.00,895.09 L1159.00,896.39 L1160.00,896.99 L1161.50,896.57 L1163.50,895.13 L1165.50,892.15 L1166.50,891.17 L1168.50,890.02 L1170.50,889.30 L1172.50,889.22 L1181.00,889.57 L1195.00,888.10 L1205.00,887.57 L1208.00,887.00 L1217.00,884.34 L1219.00,884.00 L1221.50,884.33 L1223.50,885.05 L1224.00,885.42 L1225.00,886.69 L1227.00,890.10 L1234.00,905.80 L1246.00,939.00 L1252.00,952.34 L1254.50,957.20 L1257.50,961.66 L1261.50,966.46 L1264.50,969.32 L1267.50,971.19 L1269.50,972.06 L1273.50,972.98 L1276.50,973.17 L1282.00,971.66 L1285.50,970.47 L1293.50,966.63 L1300.50,963.70 L1303.00,962.98 L1305.00,962.80 L1307.00,963.11 L1311.00,964.32 L1316.50,966.62 L1328.00,970.90 L1329.50,971.18 L1331.00,971.17 L1335.00,970.62 L1336.00,970.05 L1337.00,968.76 L1341.00,961.72 L1343.50,956.87 L1344.50,955.55 L1345.50,955.10 L1349.50,955.10 L1350.00,954.97 L1350.50,954.24 L1351.50,951.40 L1353.50,944.25 L1355.50,935.15 L1356.00,933.63 L1356.50,932.92 L1357.00,933.37 L1357.50,935.01 L1359.00,941.96 L1360.50,947.25 L1361.00,948.20 L1361.50,948.00 L1362.00,946.39 L1365.00,930.40 L1366.50,918.64 L1370.50,863.98 L1373.00,837.32 L1373.50,833.74 L1375.00,826.15 L1375.50,824.35 L1376.00,823.29 L1376.50,823.18 L1377.00,824.06 L1378.00,827.93 L1379.50,836.80 L1382.50,868.38 L1386.50,914.59 L1388.00,928.20 L1389.50,938.70 L1390.50,944.04 L1392.00,949.83 L1393.00,952.33 L1393.50,952.58 L1394.00,952.04 L1395.00,949.31 L1396.50,943.49 L1398.50,932.36 L1399.50,928.91 L1400.00,927.58 L1400.50,926.92 L1401.00,927.24 L1402.00,930.18 L1403.00,934.08 L1405.00,944.28 L1405.50,945.98 L1407.00,949.89 L1408.00,951.47 L1408.50,951.70 L1409.00,951.37 L1409.50,950.50 L1411.50,945.50 L1414.50,939.49 L1416.50,937.11 L1421.00,933.10 L1421.50,932.36 L1422.00,931.08 L1422.50,928.18 L1423.50,918.83 L1425.00,887.52 L1426.50,862.13 L1427.00,857.65 L1427.50,854.72 L1428.00,853.15 L1428.50,854.72 L1429.50,866.50 L1432.00,921.01 L1434.00,954.12 L1435.50,969.84 L1436.50,976.83 L1437.00,978.26 L1437.50,978.04 L1438.50,975.65 L1440.50,968.36 L1441.50,963.71 L1443.50,951.49 L1445.00,938.29 L1446.50,921.26 L1447.50,906.45 L1451.00,840.00 L1453.00,808.18 L1454.00,796.52 L1455.50,785.72 L1457.00,777.76 L1459.50,767.14 L1461.50,759.52 L1463.50,753.38 L1464.50,751.09 L1466.00,748.38 L1470.50,742.21 L1472.00,739.83 L1476.50,730.16 L1477.50,728.76 L1478.50,728.12 L1481.00,728.46 L1484.00,729.84 L1484.50,730.28 L1485.50,732.29 L1486.50,735.62 L1488.00,742.51 L1489.50,750.91 L1490.50,757.94 L1491.50,767.50 L1493.00,785.93 L1495.50,825.60 L1497.00,860.68 L1498.50,903.58" fill="none" stroke="#000" stroke-width="2.2" stroke-linejoin="round"/>
<path d="M109.50,504.40 L133.75,504.23 L160.25,503.77 L182.75,502.86 L191.75,502.08 L194.00,501.58 L196.25,500.76 L199.00,499.40 L201.25,497.98 L202.75,496.62 L204.00,495.14 L205.50,492.88 L206.50,490.92 L208.00,485.93 L209.50,478.51 L211.00,466.49 L212.00,455.48 L214.75,413.52 L219.75,320.52 L221.25,298.93 L223.00,279.79 L224.25,268.94 L225.25,262.40 L234.25,219.72 L235.25,213.39 L236.50,201.63 L237.00,198.97 L237.25,198.71 L237.75,200.27 L238.50,206.09 L239.50,216.58 L240.00,224.12 L243.50,289.43 L247.50,355.25 L248.00,365.74 L249.25,403.43 L250.25,424.24 L251.00,435.24 L251.25,436.82 L251.50,437.09 L252.25,436.45 L253.00,435.06 L254.75,430.69 L258.50,422.22 L261.75,414.17 L264.25,407.52 L270.00,391.17 L273.50,380.68 L275.50,375.87 L278.75,370.94 L280.00,369.46 L281.25,368.35 L282.25,367.81 L284.25,367.34 L286.75,366.98 L288.75,366.92 L290.00,367.29 L291.50,368.21 L294.25,370.65 L295.00,371.55 L296.25,373.63 L299.25,379.67 L302.75,385.80 L304.00,387.73 L305.25,389.10 L306.50,389.77 L310.25,390.97 L313.00,392.81 L314.00,392.87 L317.50,392.30 L319.00,392.59 L320.75,393.22 L322.25,394.24 L325.75,397.30 L329.75,401.63 L331.50,402.90 L332.75,403.16 L338.00,403.56 L342.75,405.33 L346.50,406.04 L347.75,406.49 L351.00,409.13 L356.00,412.58 L360.50,417.22 L364.75,420.04 L370.50,427.02 L373.50,430.10 L375.25,431.36 L378.00,432.69 L379.75,433.36 L381.50,433.79 L387.50,434.18 L388.75,434.43 L390.50,435.28 L393.75,437.45 L400.00,441.24 L403.75,442.43 L407.25,443.15 L409.25,443.30 L410.50,443.18 L412.00,442.69 L415.50,440.99 L417.00,440.42 L424.00,439.18 L427.25,439.01 L430.25,439.82 L431.25,439.90 L433.75,439.71 L440.50,438.75 L445.75,438.77 L451.00,439.13 L455.50,440.32 L463.25,441.84 L468.50,443.49 L473.25,445.63 L475.50,447.21 L480.25,451.48 L482.00,452.86 L483.75,453.90 L488.25,455.99 L489.75,457.07 L490.50,457.88 L491.50,459.55 L493.50,463.73 L497.00,472.60 L499.75,478.63 L501.50,481.92 L502.75,483.55 L504.00,484.59 L505.50,485.52 L512.75,489.34 L517.50,492.14 L519.75,493.14 L522.25,493.73 L529.00,494.85 L537.25,497.16 L540.50,497.85 L545.75,498.30 L562.00,499.13 L564.75,499.55 L571.00,500.89 L574.00,501.27 L597.25,501.31 L607.25,501.48 L618.00,501.81 L642.25,502.99 L653.00,503.29 L659.00,503.20 L672.25,502.35 L679.50,502.36 L690.25,502.79 L698.25,503.31 L705.25,503.96 L713.00,505.00" fill="none" stroke="#0000ff" stroke-width="2.7" stroke-linejoin="round"/>
<path d="M109.50,965.10 L113.70,964.20 L118.00,965.50 L120.60,966.40 L122.30,969.40 L124.50,966.00 L127.50,965.10 L129.70,962.10 L132.70,963.80 L134.90,964.20 L137.90,967.30 L141.80,969.90 L144.00,966.00 L147.50,965.50 L149.20,962.10 L151.80,960.30 L154.40,962.90 L157.00,962.90 L159.20,964.20 L161.30,969.00 L163.90,966.40 L166.50,963.40 L168.70,966.80 L172.60,965.50 L174.30,966.40 L178.70,969.90 L183.00,968.60 L186.00,966.80 L188.60,968.60 L191.70,968.60 L195.60,969.90 L199.50,966.40 L203.80,962.90 L207.70,959.00 L212.50,957.30 L215.00,951.70 L217.70,943.90 L220.30,949.10 L225.00,936.90 L227.20,935.20 L228.90,930.00 L230.70,918.80 L232.10,899.00 L233.30,869.20 L234.60,829.50 L236.00,799.80 L237.00,788.80 L238.60,791.80 L241.20,801.70 L243.20,815.60 L244.80,839.40 L245.90,870.00 L246.90,898.40 L248.30,931.60 L249.30,957.20 L251.60,961.00 L254.50,964.80 L256.40,962.90 L261.10,965.20 L264.00,961.90 L266.80,956.20 L270.10,956.40 L273.40,953.40 L276.30,956.20 L278.60,957.00 L281.00,955.70 L283.40,949.60 L286.20,950.50 L288.60,947.70 L291.40,947.90 L296.20,951.50 L298.10,951.30 L301.90,949.10 L305.60,945.30 L308.50,949.60 L310.40,949.10 L312.70,943.90 L315.10,943.10 L318.00,943.90 L320.30,942.50 L322.70,943.90 L325.10,948.60 L327.40,949.80 L330.30,948.60 L332.20,942.50 L335.00,939.60 L339.80,936.30 L344.50,934.90 L346.90,930.20 L349.20,930.20 L351.60,925.00 L354.40,927.30 L356.80,923.50 L359.60,922.60 L361.50,919.70 L363.90,921.20 L366.30,914.10 L369.10,918.30 L372.00,917.80 L375.00,917.40 L375.50,916.90 L378.30,918.20 L381.10,916.00 L383.90,918.80 L388.50,915.10 L393.10,916.00 L395.90,910.50 L400.50,907.70 L403.30,904.00 L405.10,895.70 L407.90,888.30 L414.40,885.50 L417.70,880.90 L419.90,887.30 L422.70,874.40 L425.50,868.90 L430.10,869.80 L431.90,855.90 L434.70,857.80 L437.50,852.20 L442.10,838.30 L446.70,836.10 L451.40,829.10 L454.10,835.60 L457.80,822.60 L461.50,809.70 L464.30,809.70 L468.00,793.00 L470.80,790.30 L473.60,788.40 L476.30,775.50 L480.00,767.20 L481.90,764.40 L484.60,747.70 L487.40,738.50 L491.10,727.40 L493.90,733.90 L496.70,745.00 L498.50,766.20 L500.00,779.20 L501.10,778.40 L502.70,799.90 L505.00,809.10 L508.00,819.90 L510.30,819.10 L512.70,823.70 L515.70,822.20 L518.80,833.70 L521.90,847.50 L524.20,864.40 L525.70,869.70 L528.80,872.00 L531.80,874.80 L535.70,870.20 L539.50,871.30 L541.80,877.40 L544.90,875.90 L549.50,878.20 L552.60,885.10 L556.40,893.50 L557.90,901.20 L559.50,907.40 L561.80,907.00 L564.10,912.00 L567.10,907.40 L571.00,899.70 L574.00,907.40 L577.10,904.30 L580.20,905.80 L583.30,908.90 L586.30,901.20 L590.20,906.60 L594.00,905.80 L599.40,912.70 L600.90,912.00 L604.00,906.60 L608.60,915.80 L613.20,914.30 L616.70,918.70 L618.90,912.30 L620.60,905.90 L622.70,908.40 L625.30,914.90 L627.90,917.40 L630.40,923.00 L632.60,926.90 L635.60,929.90 L639.90,932.00 L642.90,929.60 L645.40,932.90 L649.30,929.00 L652.30,927.70 L654.90,931.60 L657.90,929.90 L662.20,929.90 L664.70,933.70 L666.90,935.00 L669.90,933.30 L672.50,934.20 L676.30,938.50 L679.80,935.50 L682.80,934.20 L684.50,935.00 L686.60,931.20 L688.80,936.30 L692.20,940.60 L696.00,947.00 L698.60,946.20 L701.60,950.00 L704.20,958.60 L706.30,966.30 L708.50,971.90 L710.60,975.80 L712.80,974.90" fill="none" stroke="#008000" stroke-width="2.6" stroke-linejoin="round"/>
<text id="L0" transform="translate(983.48,485.30) rotate(-90)" font-size="22.0" fill="#000"><tspan font-size="23" font-weight="normal" font-family="'Liberation Serif', serif">ν</tspan><tspan font-weight="normal"> + </tspan><tspan font-size="24.5" font-weight="normal" font-family="'Liberation Serif', serif">δ</tspan><tspan font-weight="bold"> (H</tspan><tspan dy="5.20" font-size="14.6" font-weight="bold">2</tspan><tspan dy="-5.20" font-weight="bold">O)</tspan></text>
<text id="L1" transform="translate(1065.08,487.20) rotate(-90)" font-size="22.0" fill="#000" textLength="215.7" lengthAdjust="spacing"><tspan font-size="23" font-weight="normal" font-family="'Liberation Serif', serif">ν</tspan><tspan font-weight="bold"> (OH) + </tspan><tspan font-size="24.5" font-weight="normal" font-family="'Liberation Serif', serif">δ</tspan><tspan font-weight="bold"> (Al-Al-OH)</tspan></text>
<text id="L2" transform="translate(1159.48,365.70) rotate(-90)" font-size="22.0" fill="#000"><tspan font-size="23" font-weight="normal" font-family="'Liberation Serif', serif">ν</tspan><tspan font-weight="bold"> (OH)</tspan></text>
<text id="L3" transform="translate(1174.38,264.60) rotate(-90)" font-size="22.0" fill="#000"><tspan font-size="23" font-weight="normal" font-family="'Liberation Serif', serif">ν</tspan><tspan font-weight="bold"> (H</tspan><tspan dy="5.20" font-size="14.6" font-weight="bold">2</tspan><tspan dy="-5.20" font-weight="bold">O)</tspan></text>
<text id="L4" transform="translate(1199.58,381.50) rotate(-90)" font-size="22.0" fill="#ff2a2a"><tspan font-size="23" font-weight="normal" font-family="'Liberation Serif', serif">ν</tspan><tspan dy="5.20" font-size="14.6" font-weight="normal">3</tspan><tspan dy="-5.20" font-weight="bold"> (NH</tspan><tspan dy="5.20" font-size="14.6" font-weight="bold">4</tspan><tspan dy="-14.00" dx="-8.12" font-size="14.6" font-weight="bold">+</tspan><tspan dy="8.80" font-weight="bold">)</tspan></text>
<text id="L5" transform="translate(1227.38,362.60) rotate(-90)" font-size="22.0" fill="#ff2a2a"><tspan font-size="23" font-weight="normal" font-family="'Liberation Serif', serif">ν</tspan><tspan dy="5.20" font-size="14.6" font-weight="normal">2</tspan><tspan dy="-5.20" font-weight="normal"> + </tspan><tspan font-size="23" font-weight="normal" font-family="'Liberation Serif', serif">ν</tspan><tspan dy="5.20" font-size="14.6" font-weight="normal">4</tspan><tspan dy="-5.20" font-weight="bold"> (NH</tspan><tspan dy="5.20" font-size="14.6" font-weight="bold">4</tspan><tspan dy="-14.00" dx="-8.12" font-size="14.6" font-weight="bold">+</tspan><tspan dy="8.80" font-weight="bold">)</tspan></text>
<text id="L6" transform="translate(1312.78,483.80) rotate(-90)" font-size="22.0" fill="#ff2a2a" textLength="178.6" lengthAdjust="spacing"><tspan font-size="23" font-weight="normal" font-family="'Liberation Serif', serif">ν</tspan><tspan font-weight="bold"> (NH</tspan><tspan dy="5.20" font-size="14.6" font-weight="bold">3</tspan><tspan dy="-5.20" font-weight="bold">D</tspan><tspan dy="-8.80" font-size="14.6" font-weight="bold">+</tspan><tspan dy="8.80" font-weight="bold">)/(NHD</tspan><tspan dy="5.20" font-size="14.6" font-weight="bold">3</tspan><tspan dy="-14.00" dx="-8.12" font-size="14.6" font-weight="bold">+</tspan><tspan dy="8.80" font-weight="bold">)</tspan></text>
<text id="L7" transform="translate(1358.38,438.00) rotate(-90)" font-size="22.0" fill="#000"><tspan font-size="23" font-weight="normal" font-family="'Liberation Serif', serif">ν</tspan><tspan font-weight="bold"> (M</tspan><tspan dy="-8.80" font-size="14.6" font-weight="bold">+</tspan><tspan dy="8.80" font-weight="bold">-OH)</tspan></text>
<text id="L8" transform="translate(1383.58,360.60) rotate(-90)" font-size="22.0" fill="#000"><tspan font-size="24.5" font-weight="normal" font-family="'Liberation Serif', serif">δ</tspan><tspan font-weight="bold"> (H</tspan><tspan dy="5.20" font-size="14.6" font-weight="bold">2</tspan><tspan dy="-5.20" font-weight="bold">O)</tspan></text>
<text id="L9" transform="translate(1406.58,305.60) rotate(-90)" font-size="22.0" fill="#ff2a2a" textLength="82.5" lengthAdjust="spacing"><tspan font-size="23" font-weight="normal" font-family="'Liberation Serif', serif">ν</tspan><tspan dy="5.20" font-size="14.6" font-weight="normal">4</tspan><tspan dy="-5.20" font-weight="bold"> (NH</tspan><tspan dy="5.20" font-size="14.6" font-weight="bold">4</tspan><tspan dy="-14.00" dx="-8.12" font-size="14.6" font-weight="bold">+</tspan><tspan dy="8.80" font-weight="bold">)</tspan></text>
<text id="L10" transform="translate(1426.08,212.00) rotate(-90)" font-size="22.0" fill="#000"><tspan font-size="23" font-weight="normal" font-family="'Liberation Serif', serif">ν</tspan><tspan font-weight="bold"> (M</tspan><tspan dy="-8.80" font-size="14.6" font-weight="bold">+</tspan><tspan dy="8.80" font-weight="bold">-O)</tspan></text>
<text id="L11" transform="translate(1457.88,342.10) rotate(-90)" font-size="22.0" fill="#000"><tspan font-size="23" font-weight="normal" font-family="'Liberation Serif', serif">ν</tspan><tspan font-weight="bold"> (Si-O)</tspan></text>
<text id="L12" transform="translate(1468.88,253.70) rotate(-90)" font-size="22.0" fill="#000"><tspan font-size="24.5" font-weight="normal" font-family="'Liberation Serif', serif">δ</tspan><tspan font-weight="bold"> (Al-Mg-OH)</tspan></text>
<text id="L13" transform="translate(1494.38,236.70) rotate(-90)" font-size="22.0" fill="#000"><tspan font-size="24.5" font-weight="normal" font-family="'Liberation Serif', serif">δ</tspan><tspan font-weight="bold"> (OH)</tspan></text>
<text id="L14" transform="translate(987.18,924.10) rotate(-90)" font-size="22.0" fill="#000"><tspan font-size="23" font-weight="normal" font-family="'Liberation Serif', serif">ν</tspan><tspan font-weight="normal"> + </tspan><tspan font-size="24.5" font-weight="normal" font-family="'Liberation Serif', serif">δ</tspan><tspan font-weight="bold"> (H</tspan><tspan dy="5.20" font-size="14.6" font-weight="bold">2</tspan><tspan dy="-5.20" font-weight="bold">O)</tspan></text>
<text id="L15" transform="translate(1068.98,946.90) rotate(-90)" font-size="22.0" fill="#000"><tspan font-size="23" font-weight="normal" font-family="'Liberation Serif', serif">ν</tspan><tspan font-weight="bold"> (OH) + </tspan><tspan font-size="24.5" font-weight="normal" font-family="'Liberation Serif', serif">δ</tspan><tspan font-weight="bold"> (Al-Fe-OH)</tspan></text>
<text id="L16" transform="translate(1159.88,872.90) rotate(-90)" font-size="22.0" fill="#000"><tspan font-size="23" font-weight="normal" font-family="'Liberation Serif', serif">ν</tspan><tspan font-weight="bold"> (OH)</tspan></text>
<text id="L17" transform="translate(1176.88,779.00) rotate(-90)" font-size="22.0" fill="#000"><tspan font-size="23" font-weight="normal" font-family="'Liberation Serif', serif">ν</tspan><tspan font-weight="bold"> (H</tspan><tspan dy="5.20" font-size="14.6" font-weight="bold">2</tspan><tspan dy="-5.20" font-weight="bold">O)</tspan></text>
<text id="L18" transform="translate(1205.48,873.50) rotate(-90)" font-size="22.0" fill="#ff2a2a"><tspan font-size="23" font-weight="normal" font-family="'Liberation Serif', serif">ν</tspan><tspan dy="5.20" font-size="14.6" font-weight="normal">3</tspan><tspan dy="-5.20" font-weight="bold"> (NH</tspan><tspan dy="5.20" font-size="14.6" font-weight="bold">4</tspan><tspan dy="-14.00" dx="-8.12" font-size="14.6" font-weight="bold">+</tspan><tspan dy="8.80" font-weight="bold">)</tspan></text>
<text id="L19" transform="translate(1232.28,821.90) rotate(-90)" font-size="22.0" fill="#ff2a2a"><tspan font-size="23" font-weight="normal" font-family="'Liberation Serif', serif">ν</tspan><tspan dy="5.20" font-size="14.6" font-weight="normal">2</tspan><tspan dy="-5.20" font-weight="normal"> + </tspan><tspan font-size="23" font-weight="normal" font-family="'Liberation Serif', serif">ν</tspan><tspan dy="5.20" font-size="14.6" font-weight="normal">4</tspan><tspan dy="-5.20" font-weight="bold"> (NH</tspan><tspan dy="5.20" font-size="14.6" font-weight="bold">4</tspan><tspan dy="-14.00" dx="-8.12" font-size="14.6" font-weight="bold">+</tspan><tspan dy="8.80" font-weight="bold">)</tspan></text>
<text id="L20" transform="translate(1315.08,947.40) rotate(-90)" font-size="22.0" fill="#ff2a2a" textLength="177.6" lengthAdjust="spacing"><tspan font-size="23" font-weight="normal" font-family="'Liberation Serif', serif">ν</tspan><tspan font-weight="bold"> (NH</tspan><tspan dy="5.20" font-size="14.6" font-weight="bold">3</tspan><tspan dy="-5.20" font-weight="bold">D</tspan><tspan dy="-8.80" font-size="14.6" font-weight="bold">+</tspan><tspan dy="8.80" font-weight="bold">)/(NHD</tspan><tspan dy="5.20" font-size="14.6" font-weight="bold">3</tspan><tspan dy="-14.00" dx="-8.12" font-size="14.6" font-weight="bold">+</tspan><tspan dy="8.80" font-weight="bold">)</tspan></text>
<text id="L21" transform="translate(1381.78,809.70) rotate(-90)" font-size="22.0" fill="#000"><tspan font-size="24.5" font-weight="normal" font-family="'Liberation Serif', serif">δ</tspan><tspan font-weight="bold"> (H</tspan><tspan dy="5.20" font-size="14.6" font-weight="bold">2</tspan><tspan dy="-5.20" font-weight="bold">O)</tspan></text>
<text id="L22" transform="translate(1407.38,865.20) rotate(-90)" font-size="22.0" fill="#ff2a2a"><tspan font-size="23" font-weight="normal" font-family="'Liberation Serif', serif">ν</tspan><tspan dy="5.20" font-size="14.6" font-weight="normal">4</tspan><tspan dy="-5.20" font-weight="bold"> (NH</tspan><tspan dy="5.20" font-size="14.6" font-weight="bold">4</tspan><tspan dy="-14.00" dx="-8.12" font-size="14.6" font-weight="bold">+</tspan><tspan dy="8.80" font-weight="bold">)</tspan></text>
<text id="L23" transform="translate(1442.88,847.10) rotate(-90)" font-size="22.0" fill="#000"><tspan font-size="23" font-weight="normal" font-family="'Liberation Serif', serif">ν</tspan><tspan font-weight="bold"> (M</tspan><tspan dy="-8.80" font-size="14.6" font-weight="bold">+</tspan><tspan dy="8.80" font-weight="bold">-O)</tspan></text>
<text id="L24" transform="translate(1421.88,759.30) rotate(-90)" font-size="22.0" fill="#ff2a2a"><tspan font-size="23" font-weight="normal" font-family="'Liberation Serif', serif">ν</tspan><tspan dy="5.20" font-size="14.6" font-weight="normal">4</tspan><tspan dy="-5.20" font-weight="bold"> (NH</tspan><tspan dy="5.20" font-size="14.6" font-weight="bold">3</tspan><tspan dy="-5.20" font-weight="bold">D</tspan><tspan dy="-8.80" font-size="14.6" font-weight="bold">+</tspan><tspan dy="8.80" font-weight="bold">)</tspan></text>
<text id="L25" transform="translate(1447.58,656.60) rotate(-90)" font-size="22.0" fill="#000"><tspan font-size="23" font-weight="normal" font-family="'Liberation Serif', serif">ν</tspan><tspan font-weight="bold"> (Si-O)</tspan></text>
<text id="L26" transform="translate(1470.98,717.70) rotate(-90)" font-size="22.0" fill="#000"><tspan font-size="24.5" font-weight="normal" font-family="'Liberation Serif', serif">δ</tspan><tspan font-weight="bold"> (Al-Fe-OH)</tspan></text>
<text id="L27" transform="translate(1492.68,715.40) rotate(-90)" font-size="22.0" fill="#000"><tspan font-size="24.5" font-weight="normal" font-family="'Liberation Serif', serif">δ</tspan><tspan font-weight="bold"> (OH)</tspan></text>
<line x1="1169.7" y1="271.6" x2="1169.7" y2="373.0" stroke="#000" stroke-width="2.2" stroke-dasharray="2.2 2.2"/>
<path d="M1165.30,373.00 L1174.10,373.00 L1169.70,389.70 Z" fill="#000"/>
<line x1="1220.3" y1="376.0" x2="1220.3" y2="400.3" stroke="#000" stroke-width="2.2" stroke-dasharray="2.2 2.2"/>
<path d="M1215.90,400.30 L1224.70,400.30 L1220.30,416.50 Z" fill="#000"/>
<line x1="1401.7" y1="309.7" x2="1401.7" y2="395.0" stroke="#000" stroke-width="2.2" stroke-dasharray="2.2 2.2"/>
<path d="M1397.30,395.00 L1406.10,395.00 L1401.70,410.70 Z" fill="#000"/>
<line x1="1467.2" y1="257.6" x2="1467.2" y2="289.0" stroke="#000" stroke-width="2.2" stroke-dasharray="2.2 2.2"/>
<path d="M1462.80,289.00 L1471.60,289.00 L1467.20,305.20 Z" fill="#000"/>
<line x1="1169.0" y1="786.2" x2="1169.0" y2="868.0" stroke="#000" stroke-width="2.2" stroke-dasharray="2.2 2.2"/>
<path d="M1164.60,868.00 L1173.40,868.00 L1169.00,883.40 Z" fill="#000"/>
<line x1="1222.2" y1="833.8" x2="1222.2" y2="862.0" stroke="#000" stroke-width="2.2" stroke-dasharray="2.2 2.2"/>
<path d="M1217.80,862.00 L1226.60,862.00 L1222.20,877.50 Z" fill="#000"/>
<line x1="1401.7" y1="878.5" x2="1401.7" y2="906.0" stroke="#000" stroke-width="2.2" stroke-dasharray="2.2 2.2"/>
<path d="M1397.30,906.00 L1406.10,906.00 L1401.70,921.90 Z" fill="#000"/>
<line x1="1418.0" y1="766.0" x2="1418.0" y2="913.0" stroke="#000" stroke-width="2.2" stroke-dasharray="2.2 2.2"/>
<path d="M1413.60,913.00 L1422.40,913.00 L1418.00,930.00 Z" fill="#000"/>
<path d="M1439.6,667.1 L1439.6,735 Q1440,752 1448,765" fill="none" stroke="#000" stroke-width="2.2" stroke-dasharray="2.2 2.2"/>
<path d="M1442.36,764.79 L1450.18,760.76 L1453.60,777.00 Z" fill="#000"/>
</svg></body></html>
